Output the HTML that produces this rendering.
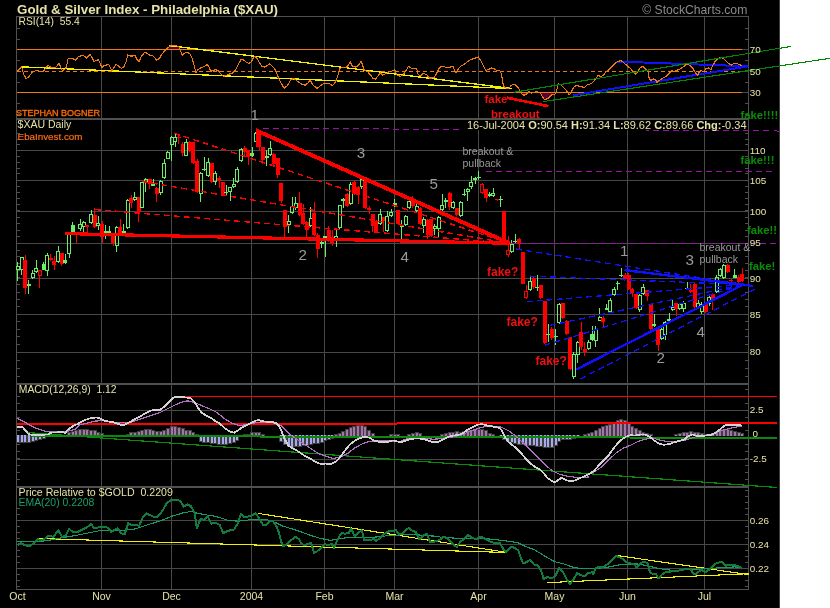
<!DOCTYPE html>
<html><head><meta charset="utf-8"><title>Gold &amp; Silver Index - Philadelphia ($XAU)</title><style>html,body{margin:0;padding:0;background:#fff;width:830px;height:608px;overflow:hidden;}svg{display:block;font-family:"Liberation Sans",sans-serif;will-change:transform;}</style></head><body>
<svg width="830" height="608" viewBox="0 0 830 608" font-family="Liberation Sans, sans-serif"><style>line,polyline,polygon,rect{shape-rendering:crispEdges}</style><rect x="0" y="0" width="780" height="608" fill="#000" />
<rect x="780" y="0" width="50" height="608" fill="#fff" />
<rect x="779" y="0" width="1" height="608" fill="#3c3c3c" />
<g shape-rendering="crispEdges">
<line x1="101.5" y1="17" x2="101.5" y2="118" stroke="#484848" stroke-width="1" />
<line x1="171.5" y1="17" x2="171.5" y2="118" stroke="#484848" stroke-width="1" />
<line x1="251.5" y1="17" x2="251.5" y2="118" stroke="#484848" stroke-width="1" />
<line x1="324.5" y1="17" x2="324.5" y2="118" stroke="#484848" stroke-width="1" />
<line x1="394.5" y1="17" x2="394.5" y2="118" stroke="#484848" stroke-width="1" />
<line x1="478.5" y1="17" x2="478.5" y2="118" stroke="#484848" stroke-width="1" />
<line x1="554.5" y1="17" x2="554.5" y2="118" stroke="#484848" stroke-width="1" />
<line x1="627.5" y1="17" x2="627.5" y2="118" stroke="#484848" stroke-width="1" />
<line x1="704.5" y1="17" x2="704.5" y2="118" stroke="#484848" stroke-width="1" />
<line x1="101.5" y1="120" x2="101.5" y2="383" stroke="#484848" stroke-width="1" />
<line x1="171.5" y1="120" x2="171.5" y2="383" stroke="#484848" stroke-width="1" />
<line x1="251.5" y1="120" x2="251.5" y2="383" stroke="#484848" stroke-width="1" />
<line x1="324.5" y1="120" x2="324.5" y2="383" stroke="#484848" stroke-width="1" />
<line x1="394.5" y1="120" x2="394.5" y2="383" stroke="#484848" stroke-width="1" />
<line x1="478.5" y1="120" x2="478.5" y2="383" stroke="#484848" stroke-width="1" />
<line x1="554.5" y1="120" x2="554.5" y2="383" stroke="#484848" stroke-width="1" />
<line x1="627.5" y1="120" x2="627.5" y2="383" stroke="#484848" stroke-width="1" />
<line x1="704.5" y1="120" x2="704.5" y2="383" stroke="#484848" stroke-width="1" />
<line x1="101.5" y1="385" x2="101.5" y2="486" stroke="#484848" stroke-width="1" />
<line x1="171.5" y1="385" x2="171.5" y2="486" stroke="#484848" stroke-width="1" />
<line x1="251.5" y1="385" x2="251.5" y2="486" stroke="#484848" stroke-width="1" />
<line x1="324.5" y1="385" x2="324.5" y2="486" stroke="#484848" stroke-width="1" />
<line x1="394.5" y1="385" x2="394.5" y2="486" stroke="#484848" stroke-width="1" />
<line x1="478.5" y1="385" x2="478.5" y2="486" stroke="#484848" stroke-width="1" />
<line x1="554.5" y1="385" x2="554.5" y2="486" stroke="#484848" stroke-width="1" />
<line x1="627.5" y1="385" x2="627.5" y2="486" stroke="#484848" stroke-width="1" />
<line x1="704.5" y1="385" x2="704.5" y2="486" stroke="#484848" stroke-width="1" />
<line x1="101.5" y1="488" x2="101.5" y2="589" stroke="#484848" stroke-width="1" />
<line x1="171.5" y1="488" x2="171.5" y2="589" stroke="#484848" stroke-width="1" />
<line x1="251.5" y1="488" x2="251.5" y2="589" stroke="#484848" stroke-width="1" />
<line x1="324.5" y1="488" x2="324.5" y2="589" stroke="#484848" stroke-width="1" />
<line x1="394.5" y1="488" x2="394.5" y2="589" stroke="#484848" stroke-width="1" />
<line x1="478.5" y1="488" x2="478.5" y2="589" stroke="#484848" stroke-width="1" />
<line x1="554.5" y1="488" x2="554.5" y2="589" stroke="#484848" stroke-width="1" />
<line x1="627.5" y1="488" x2="627.5" y2="589" stroke="#484848" stroke-width="1" />
<line x1="704.5" y1="488" x2="704.5" y2="589" stroke="#484848" stroke-width="1" />
<line x1="17" y1="150.5" x2="748" y2="150.5" stroke="#484848" stroke-width="1" />
<line x1="17" y1="180.5" x2="748" y2="180.5" stroke="#484848" stroke-width="1" />
<line x1="17" y1="211.5" x2="748" y2="211.5" stroke="#484848" stroke-width="1" />
<line x1="17" y1="243.5" x2="748" y2="243.5" stroke="#484848" stroke-width="1" />
<line x1="17" y1="278.5" x2="748" y2="278.5" stroke="#484848" stroke-width="1" />
<line x1="17" y1="314.5" x2="748" y2="314.5" stroke="#484848" stroke-width="1" />
<line x1="17" y1="352.5" x2="748" y2="352.5" stroke="#484848" stroke-width="1" />
<line x1="17" y1="410.5" x2="748" y2="410.5" stroke="#484848" stroke-width="1" />
<line x1="17" y1="459.5" x2="748" y2="459.5" stroke="#484848" stroke-width="1" />
<line x1="17" y1="520.5" x2="748" y2="520.5" stroke="#484848" stroke-width="1" />
<line x1="17" y1="544.5" x2="748" y2="544.5" stroke="#484848" stroke-width="1" />
<line x1="17" y1="568.5" x2="748" y2="568.5" stroke="#484848" stroke-width="1" />
<line x1="16" y1="16.5" x2="749" y2="16.5" stroke="#505050" stroke-width="1" />
<line x1="16.5" y1="16" x2="16.5" y2="590" stroke="#505050" stroke-width="1" />
<line x1="748.5" y1="16" x2="748.5" y2="590" stroke="#505050" stroke-width="1" />
<line x1="16" y1="589.5" x2="749" y2="589.5" stroke="#505050" stroke-width="1" />
<rect x="16" y="118" width="733" height="2" fill="#505050" />
<rect x="16" y="383" width="733" height="2" fill="#505050" />
<rect x="16" y="486" width="733" height="2" fill="#505050" />
<line x1="17" y1="28.5" x2="20" y2="28.5" stroke="#505050" stroke-width="1" />
<line x1="745" y1="28.5" x2="748" y2="28.5" stroke="#505050" stroke-width="1" />
<line x1="17" y1="39.5" x2="20" y2="39.5" stroke="#505050" stroke-width="1" />
<line x1="745" y1="39.5" x2="748" y2="39.5" stroke="#505050" stroke-width="1" />
<line x1="17" y1="60.5" x2="20" y2="60.5" stroke="#505050" stroke-width="1" />
<line x1="745" y1="60.5" x2="748" y2="60.5" stroke="#505050" stroke-width="1" />
<line x1="17" y1="82.5" x2="20" y2="82.5" stroke="#505050" stroke-width="1" />
<line x1="745" y1="82.5" x2="748" y2="82.5" stroke="#505050" stroke-width="1" />
<line x1="17" y1="103.5" x2="20" y2="103.5" stroke="#505050" stroke-width="1" />
<line x1="745" y1="103.5" x2="748" y2="103.5" stroke="#505050" stroke-width="1" />
<line x1="17" y1="114.5" x2="20" y2="114.5" stroke="#505050" stroke-width="1" />
<line x1="745" y1="114.5" x2="748" y2="114.5" stroke="#505050" stroke-width="1" />
<line x1="17" y1="376.5" x2="20" y2="376.5" stroke="#505050" stroke-width="1" />
<line x1="745" y1="376.5" x2="748" y2="376.5" stroke="#505050" stroke-width="1" />
<line x1="17" y1="368.5" x2="20" y2="368.5" stroke="#505050" stroke-width="1" />
<line x1="745" y1="368.5" x2="748" y2="368.5" stroke="#505050" stroke-width="1" />
<line x1="17" y1="360.5" x2="20" y2="360.5" stroke="#505050" stroke-width="1" />
<line x1="745" y1="360.5" x2="748" y2="360.5" stroke="#505050" stroke-width="1" />
<line x1="17" y1="352.5" x2="20" y2="352.5" stroke="#505050" stroke-width="1" />
<line x1="745" y1="352.5" x2="748" y2="352.5" stroke="#505050" stroke-width="1" />
<line x1="17" y1="344.5" x2="20" y2="344.5" stroke="#505050" stroke-width="1" />
<line x1="745" y1="344.5" x2="748" y2="344.5" stroke="#505050" stroke-width="1" />
<line x1="17" y1="336.5" x2="20" y2="336.5" stroke="#505050" stroke-width="1" />
<line x1="745" y1="336.5" x2="748" y2="336.5" stroke="#505050" stroke-width="1" />
<line x1="17" y1="329.5" x2="20" y2="329.5" stroke="#505050" stroke-width="1" />
<line x1="745" y1="329.5" x2="748" y2="329.5" stroke="#505050" stroke-width="1" />
<line x1="17" y1="321.5" x2="20" y2="321.5" stroke="#505050" stroke-width="1" />
<line x1="745" y1="321.5" x2="748" y2="321.5" stroke="#505050" stroke-width="1" />
<line x1="17" y1="314.5" x2="20" y2="314.5" stroke="#505050" stroke-width="1" />
<line x1="745" y1="314.5" x2="748" y2="314.5" stroke="#505050" stroke-width="1" />
<line x1="17" y1="306.5" x2="20" y2="306.5" stroke="#505050" stroke-width="1" />
<line x1="745" y1="306.5" x2="748" y2="306.5" stroke="#505050" stroke-width="1" />
<line x1="17" y1="299.5" x2="20" y2="299.5" stroke="#505050" stroke-width="1" />
<line x1="745" y1="299.5" x2="748" y2="299.5" stroke="#505050" stroke-width="1" />
<line x1="17" y1="292.5" x2="20" y2="292.5" stroke="#505050" stroke-width="1" />
<line x1="745" y1="292.5" x2="748" y2="292.5" stroke="#505050" stroke-width="1" />
<line x1="17" y1="284.5" x2="20" y2="284.5" stroke="#505050" stroke-width="1" />
<line x1="745" y1="284.5" x2="748" y2="284.5" stroke="#505050" stroke-width="1" />
<line x1="17" y1="277.5" x2="20" y2="277.5" stroke="#505050" stroke-width="1" />
<line x1="745" y1="277.5" x2="748" y2="277.5" stroke="#505050" stroke-width="1" />
<line x1="17" y1="270.5" x2="20" y2="270.5" stroke="#505050" stroke-width="1" />
<line x1="745" y1="270.5" x2="748" y2="270.5" stroke="#505050" stroke-width="1" />
<line x1="17" y1="263.5" x2="20" y2="263.5" stroke="#505050" stroke-width="1" />
<line x1="745" y1="263.5" x2="748" y2="263.5" stroke="#505050" stroke-width="1" />
<line x1="17" y1="256.5" x2="20" y2="256.5" stroke="#505050" stroke-width="1" />
<line x1="745" y1="256.5" x2="748" y2="256.5" stroke="#505050" stroke-width="1" />
<line x1="17" y1="250.5" x2="20" y2="250.5" stroke="#505050" stroke-width="1" />
<line x1="745" y1="250.5" x2="748" y2="250.5" stroke="#505050" stroke-width="1" />
<line x1="17" y1="243.5" x2="20" y2="243.5" stroke="#505050" stroke-width="1" />
<line x1="745" y1="243.5" x2="748" y2="243.5" stroke="#505050" stroke-width="1" />
<line x1="17" y1="236.5" x2="20" y2="236.5" stroke="#505050" stroke-width="1" />
<line x1="745" y1="236.5" x2="748" y2="236.5" stroke="#505050" stroke-width="1" />
<line x1="17" y1="230.5" x2="20" y2="230.5" stroke="#505050" stroke-width="1" />
<line x1="745" y1="230.5" x2="748" y2="230.5" stroke="#505050" stroke-width="1" />
<line x1="17" y1="223.5" x2="20" y2="223.5" stroke="#505050" stroke-width="1" />
<line x1="745" y1="223.5" x2="748" y2="223.5" stroke="#505050" stroke-width="1" />
<line x1="17" y1="217.5" x2="20" y2="217.5" stroke="#505050" stroke-width="1" />
<line x1="745" y1="217.5" x2="748" y2="217.5" stroke="#505050" stroke-width="1" />
<line x1="17" y1="210.5" x2="20" y2="210.5" stroke="#505050" stroke-width="1" />
<line x1="745" y1="210.5" x2="748" y2="210.5" stroke="#505050" stroke-width="1" />
<line x1="17" y1="204.5" x2="20" y2="204.5" stroke="#505050" stroke-width="1" />
<line x1="745" y1="204.5" x2="748" y2="204.5" stroke="#505050" stroke-width="1" />
<line x1="17" y1="198.5" x2="20" y2="198.5" stroke="#505050" stroke-width="1" />
<line x1="745" y1="198.5" x2="748" y2="198.5" stroke="#505050" stroke-width="1" />
<line x1="17" y1="192.5" x2="20" y2="192.5" stroke="#505050" stroke-width="1" />
<line x1="745" y1="192.5" x2="748" y2="192.5" stroke="#505050" stroke-width="1" />
<line x1="17" y1="186.5" x2="20" y2="186.5" stroke="#505050" stroke-width="1" />
<line x1="745" y1="186.5" x2="748" y2="186.5" stroke="#505050" stroke-width="1" />
<line x1="17" y1="180.5" x2="20" y2="180.5" stroke="#505050" stroke-width="1" />
<line x1="745" y1="180.5" x2="748" y2="180.5" stroke="#505050" stroke-width="1" />
<line x1="17" y1="173.5" x2="20" y2="173.5" stroke="#505050" stroke-width="1" />
<line x1="745" y1="173.5" x2="748" y2="173.5" stroke="#505050" stroke-width="1" />
<line x1="17" y1="168.5" x2="20" y2="168.5" stroke="#505050" stroke-width="1" />
<line x1="745" y1="168.5" x2="748" y2="168.5" stroke="#505050" stroke-width="1" />
<line x1="17" y1="162.5" x2="20" y2="162.5" stroke="#505050" stroke-width="1" />
<line x1="745" y1="162.5" x2="748" y2="162.5" stroke="#505050" stroke-width="1" />
<line x1="17" y1="156.5" x2="20" y2="156.5" stroke="#505050" stroke-width="1" />
<line x1="745" y1="156.5" x2="748" y2="156.5" stroke="#505050" stroke-width="1" />
<line x1="17" y1="150.5" x2="20" y2="150.5" stroke="#505050" stroke-width="1" />
<line x1="745" y1="150.5" x2="748" y2="150.5" stroke="#505050" stroke-width="1" />
<line x1="17" y1="144.5" x2="20" y2="144.5" stroke="#505050" stroke-width="1" />
<line x1="745" y1="144.5" x2="748" y2="144.5" stroke="#505050" stroke-width="1" />
<line x1="17" y1="139.5" x2="20" y2="139.5" stroke="#505050" stroke-width="1" />
<line x1="745" y1="139.5" x2="748" y2="139.5" stroke="#505050" stroke-width="1" />
<line x1="17" y1="133.5" x2="20" y2="133.5" stroke="#505050" stroke-width="1" />
<line x1="745" y1="133.5" x2="748" y2="133.5" stroke="#505050" stroke-width="1" />
<line x1="17" y1="127.5" x2="20" y2="127.5" stroke="#505050" stroke-width="1" />
<line x1="745" y1="127.5" x2="748" y2="127.5" stroke="#505050" stroke-width="1" />
<line x1="17" y1="389.5" x2="20" y2="389.5" stroke="#505050" stroke-width="1" />
<line x1="745" y1="389.5" x2="748" y2="389.5" stroke="#505050" stroke-width="1" />
<line x1="17" y1="396.5" x2="20" y2="396.5" stroke="#505050" stroke-width="1" />
<line x1="745" y1="396.5" x2="748" y2="396.5" stroke="#505050" stroke-width="1" />
<line x1="17" y1="403.5" x2="20" y2="403.5" stroke="#505050" stroke-width="1" />
<line x1="745" y1="403.5" x2="748" y2="403.5" stroke="#505050" stroke-width="1" />
<line x1="17" y1="410.5" x2="20" y2="410.5" stroke="#505050" stroke-width="1" />
<line x1="745" y1="410.5" x2="748" y2="410.5" stroke="#505050" stroke-width="1" />
<line x1="17" y1="417.5" x2="20" y2="417.5" stroke="#505050" stroke-width="1" />
<line x1="745" y1="417.5" x2="748" y2="417.5" stroke="#505050" stroke-width="1" />
<line x1="17" y1="423.5" x2="20" y2="423.5" stroke="#505050" stroke-width="1" />
<line x1="745" y1="423.5" x2="748" y2="423.5" stroke="#505050" stroke-width="1" />
<line x1="17" y1="430.5" x2="20" y2="430.5" stroke="#505050" stroke-width="1" />
<line x1="745" y1="430.5" x2="748" y2="430.5" stroke="#505050" stroke-width="1" />
<line x1="17" y1="437.5" x2="20" y2="437.5" stroke="#505050" stroke-width="1" />
<line x1="745" y1="437.5" x2="748" y2="437.5" stroke="#505050" stroke-width="1" />
<line x1="17" y1="444.5" x2="20" y2="444.5" stroke="#505050" stroke-width="1" />
<line x1="745" y1="444.5" x2="748" y2="444.5" stroke="#505050" stroke-width="1" />
<line x1="17" y1="451.5" x2="20" y2="451.5" stroke="#505050" stroke-width="1" />
<line x1="745" y1="451.5" x2="748" y2="451.5" stroke="#505050" stroke-width="1" />
<line x1="17" y1="458.5" x2="20" y2="458.5" stroke="#505050" stroke-width="1" />
<line x1="745" y1="458.5" x2="748" y2="458.5" stroke="#505050" stroke-width="1" />
<line x1="17" y1="465.5" x2="20" y2="465.5" stroke="#505050" stroke-width="1" />
<line x1="745" y1="465.5" x2="748" y2="465.5" stroke="#505050" stroke-width="1" />
<line x1="17" y1="472.5" x2="20" y2="472.5" stroke="#505050" stroke-width="1" />
<line x1="745" y1="472.5" x2="748" y2="472.5" stroke="#505050" stroke-width="1" />
<line x1="17" y1="479.5" x2="20" y2="479.5" stroke="#505050" stroke-width="1" />
<line x1="745" y1="479.5" x2="748" y2="479.5" stroke="#505050" stroke-width="1" />
<line x1="17" y1="490.5" x2="20" y2="490.5" stroke="#505050" stroke-width="1" />
<line x1="745" y1="490.5" x2="748" y2="490.5" stroke="#505050" stroke-width="1" />
<line x1="17" y1="496.5" x2="20" y2="496.5" stroke="#505050" stroke-width="1" />
<line x1="745" y1="496.5" x2="748" y2="496.5" stroke="#505050" stroke-width="1" />
<line x1="17" y1="502.5" x2="20" y2="502.5" stroke="#505050" stroke-width="1" />
<line x1="745" y1="502.5" x2="748" y2="502.5" stroke="#505050" stroke-width="1" />
<line x1="17" y1="508.5" x2="20" y2="508.5" stroke="#505050" stroke-width="1" />
<line x1="745" y1="508.5" x2="748" y2="508.5" stroke="#505050" stroke-width="1" />
<line x1="17" y1="514.5" x2="20" y2="514.5" stroke="#505050" stroke-width="1" />
<line x1="745" y1="514.5" x2="748" y2="514.5" stroke="#505050" stroke-width="1" />
<line x1="17" y1="520.5" x2="20" y2="520.5" stroke="#505050" stroke-width="1" />
<line x1="745" y1="520.5" x2="748" y2="520.5" stroke="#505050" stroke-width="1" />
<line x1="17" y1="526.5" x2="20" y2="526.5" stroke="#505050" stroke-width="1" />
<line x1="745" y1="526.5" x2="748" y2="526.5" stroke="#505050" stroke-width="1" />
<line x1="17" y1="532.5" x2="20" y2="532.5" stroke="#505050" stroke-width="1" />
<line x1="745" y1="532.5" x2="748" y2="532.5" stroke="#505050" stroke-width="1" />
<line x1="17" y1="538.5" x2="20" y2="538.5" stroke="#505050" stroke-width="1" />
<line x1="745" y1="538.5" x2="748" y2="538.5" stroke="#505050" stroke-width="1" />
<line x1="17" y1="544.5" x2="20" y2="544.5" stroke="#505050" stroke-width="1" />
<line x1="745" y1="544.5" x2="748" y2="544.5" stroke="#505050" stroke-width="1" />
<line x1="17" y1="550.5" x2="20" y2="550.5" stroke="#505050" stroke-width="1" />
<line x1="745" y1="550.5" x2="748" y2="550.5" stroke="#505050" stroke-width="1" />
<line x1="17" y1="556.5" x2="20" y2="556.5" stroke="#505050" stroke-width="1" />
<line x1="745" y1="556.5" x2="748" y2="556.5" stroke="#505050" stroke-width="1" />
<line x1="17" y1="562.5" x2="20" y2="562.5" stroke="#505050" stroke-width="1" />
<line x1="745" y1="562.5" x2="748" y2="562.5" stroke="#505050" stroke-width="1" />
<line x1="17" y1="568.5" x2="20" y2="568.5" stroke="#505050" stroke-width="1" />
<line x1="745" y1="568.5" x2="748" y2="568.5" stroke="#505050" stroke-width="1" />
<line x1="17" y1="574.5" x2="20" y2="574.5" stroke="#505050" stroke-width="1" />
<line x1="745" y1="574.5" x2="748" y2="574.5" stroke="#505050" stroke-width="1" />
<line x1="17" y1="580.5" x2="20" y2="580.5" stroke="#505050" stroke-width="1" />
<line x1="745" y1="580.5" x2="748" y2="580.5" stroke="#505050" stroke-width="1" />
<line x1="17" y1="586.5" x2="20" y2="586.5" stroke="#505050" stroke-width="1" />
<line x1="745" y1="586.5" x2="748" y2="586.5" stroke="#505050" stroke-width="1" />
</g>
<polygon points="165.94,49.5 168.55,47.14 171.59,45.46 175.3,45.46 178.67,46.47 180.05,49.5" fill="#5a0030" />
<polygon points="520.86,92.5 521.2,93.19 523.73,95.39 526.27,94.04 527.8,92.5" fill="#5a0030" />
<polygon points="530.29,92.5 531.33,93.19 533.4,92.5" fill="#5a0030" />
<polygon points="538.52,92.5 540.6,93.19 542.29,96.57 544.82,99.94 548.19,98.25 551.57,94.88 554.94,94.04 555.71,92.5" fill="#5a0030" />
<polygon points="567.75,92.5 569.34,94.88 570.92,92.5" fill="#5a0030" />
<g shape-rendering="crispEdges">
<line x1="742" y1="49.5" x2="748" y2="49.5" stroke="#484848" stroke-width="1" />
<line x1="742" y1="92.5" x2="748" y2="92.5" stroke="#484848" stroke-width="1" />
<line x1="742" y1="71.5" x2="748" y2="71.5" stroke="#484848" stroke-width="1" />
<line x1="17" y1="49.5" x2="742" y2="49.5" stroke="#f07a10" stroke-width="1" />
<line x1="17" y1="92.5" x2="742" y2="92.5" stroke="#f07a10" stroke-width="1" />
</g>
<line x1="17" y1="71.5" x2="742" y2="71.5" stroke="#f07a10" stroke-width="1" stroke-dasharray="4,3" shape-rendering="crispEdges"/>
<line x1="168.6" y1="45.5" x2="512" y2="88.6" stroke="#f0f000" stroke-width="1.3" />
<line x1="20.5" y1="66.8" x2="512" y2="88.6" stroke="#f0f000" stroke-width="1.3" />
<line x1="615.7" y1="61.5" x2="748" y2="66.3" stroke="#1010ff" stroke-width="2" />
<line x1="572.7" y1="95.4" x2="748" y2="66.3" stroke="#1010ff" stroke-width="2" />
<polyline points="17.53,71.2 21.75,66.99 23.43,73.73 25.96,78.46 28.49,77.11 31.87,72.89 34.4,71.2 36.93,70.36 39.46,71.2 43.67,71.2 45.36,68.67 47.89,65.3 50.42,66.99 52.95,67.83 55.48,67.83 58.01,64.46 59.19,63.61 60.54,66.99 62.23,70.36 64.76,69.52 66.45,66.99 68.13,58.55 70.66,58.22 73.19,58.89 75.72,60.24 78.25,56.87 81.63,55.52 84.16,56.02 86.69,58.22 90.06,54.34 91.75,56.87 94.28,61.93 95.96,60.24 98.49,59.9 100.18,63.61 101.87,67.33 104.4,65.3 106.93,64.96 108.61,64.46 110.3,67.83 111.99,70.36 113.67,67.83 116.2,64.46 118.73,66.14 121.27,68.34 123.8,66.99 126.33,61.08 127.67,54.84 130.54,56.02 133.07,56.02 134.76,55.18 136.45,58.55 138.98,61.93 141.51,56.02 144.88,52.14 147.41,53.49 149.94,55.18 153.37,56.08 156.75,60.3 159.28,58.61 161.81,54.4 165.18,50.18 168.55,47.14 171.59,45.46 175.3,45.46 178.67,46.47 180.36,50.18 182.39,55.24 184.58,53.22 187.11,52.2 189.64,53.55 192.17,58.61 194.19,65.36 195.88,72.95 198.07,69.58 200.6,67.89 203.98,66.71 207.35,64.52 209.04,67.05 210.72,71.27 213.25,70.42 215.78,69.58 218.31,70.76 220.84,73.8 223.37,76.33 225.9,75.48 229.28,74.13 232.65,72.95 235.18,70.42 237.71,65.36 241.08,59.46 243.61,59.96 246.14,61.99 248.67,63.34 251.2,61.99 252.89,58.61 254.92,56.08 257.11,58.61 259.64,62.83 262.17,66.71 264.7,67.05 267.23,65.36 269.76,63.67 273.13,67.05 275.66,70.42 278.19,77.17 281.57,83.92 284.43,88.64 285,87.29 287.53,85.6 290.9,79.19 294.28,78.86 297.65,81.39 301.02,83.92 305.24,85.27 307.77,83.07 310.3,80.2 312.83,84.76 317.05,88.64 320.42,85.6 323.8,83.58 327.17,83.07 329.7,83.92 332.23,85.6 334.76,83.07 336.45,79.7 338.13,74.64 339.82,68.73 342.35,67.39 345.72,67.89 348.25,65.36 350.45,61.99 352.47,66.71 355.84,67.05 358.37,65.36 361.24,61.14 362.93,66.2 364.28,70.42 367.65,71.77 370.18,74.64 372.71,78.01 375.24,79.19 377.77,76.33 380.3,72.95 382.83,75.14 386.2,73.46 389.58,71.77 392.95,70.76 394.64,69.58 397.17,75.48 400.54,76.33 403.07,75.14 405.6,71.27 408.47,66.2 411.51,68.4 414.04,68.73 416.57,68.4 418.25,74.64 420.78,75.82 423.37,73.46 426.75,74.64 429.28,78.01 431.81,78.01 434.34,77.17 436.87,72.95 439.4,67.89 441.93,66.2 445.3,67.05 447.83,67.89 450.36,67.05 452.89,66.2 454.58,70.42 456.27,72.95 457.95,69.58 460.48,66.2 463.86,64.52 467.23,61.99 470.6,59.46 473.98,58.61 478.19,56.93 480.72,60.3 483.25,65.36 485.78,70.42 488.31,69.58 491.69,67.89 494.22,68.73 496.75,70.42 499.61,70.42 500.96,72.95 502.31,78.86 503.49,86.45 506.02,88.13 508.55,88.64 511.08,85.6 513.61,84.25 516.14,85.27 518.67,88.13 521.2,93.19 523.73,95.39 526.27,94.04 528.8,91.51 531.33,93.19 533.86,92.35 536.39,91.51 538.07,92.35 540.6,93.19 542.29,96.57 544.82,99.94 548.19,98.25 551.57,94.88 554.94,94.04 556.63,90.66 558.31,83.92 560.9,84.76 563.43,87.29 565.96,89.82 567.65,92.35 569.34,94.88 571.02,92.35 572.71,88.98 574.4,86.45 576.93,85.27 579.46,86.45 581.99,86.95 584.52,87.29 587.05,84.76 590.42,83.92 592.95,82.23 595.48,79.19 598.01,75.48 600.54,76.33 603.07,75.82 605.6,72.45 608.98,69.58 612.35,66.2 614.88,63.34 617.41,61.65 620.78,60.64 623.31,62.33 625.84,64.52 627.53,66.2 630.06,67.89 632.59,71.27 634.28,72.45 635.63,74.13 637.65,71.77 640.18,67.89 642.71,66.2 645.24,68.73 647.77,70.42 648.61,75.48 649.46,79.7 651.14,80.2 653.67,78.86 655.87,80.2 657.05,83.07 658.23,81.39 660.42,79.7 662.95,78.01 666.33,76.33 669.7,72.95 671.39,70.42 673.92,72.11 676.45,70.42 678.98,69.58 681.51,67.89 684.04,66.2 685.72,65.02 688.25,64.52 689.94,65.36 691.63,67.05 693.31,68.73 694.22,71.27 697.59,75.14 699.28,72.11 700.96,70.42 703.49,71.77 706.02,68.73 708.55,67.89 711.08,69.58 712.77,65.36 715.3,61.14 717.83,58.61 721.2,57.27 723.73,58.61 726.27,61.14 728.8,63.67 731.33,65.02 733.86,63.67 737.23,63.67 739.76,64.52 742.29,66.2" fill="none" stroke="#f07a10" stroke-width="1.1" stroke-linejoin="round" />
<line x1="513.6" y1="92.3" x2="790.9" y2="46.4" stroke="#008800" stroke-width="1.1" />
<line x1="543.1" y1="101.6" x2="830" y2="58.3" stroke="#008800" stroke-width="1.1" />
<line x1="507" y1="97.7" x2="548.5" y2="106.2" stroke="#ff0000" stroke-width="2.6" />
<g shape-rendering="crispEdges">
<rect x="17" y="262" width="1" height="4" fill="#6aee6a" />
<rect x="17" y="270" width="1" height="11" fill="#6aee6a" />
<rect x="16.5" y="266.5" width="3" height="3" fill="none" stroke="#6aee6a" stroke-width="1"/>
<rect x="21" y="270" width="1" height="5" fill="#6aee6a" />
<rect x="20.5" y="257.5" width="3" height="12" fill="none" stroke="#6aee6a" stroke-width="1"/>
<rect x="25" y="255" width="1" height="39" fill="#ff0000" />
<rect x="23" y="260" width="4" height="28" fill="#ff0000" />
<rect x="28" y="280" width="1" height="14" fill="#6aee6a" />
<rect x="27" y="284" width="4" height="2" fill="#6aee6a" />
<rect x="32" y="270" width="1" height="3" fill="#6aee6a" />
<rect x="32" y="278" width="1" height="1" fill="#6aee6a" />
<rect x="31.5" y="273.5" width="3" height="4" fill="none" stroke="#6aee6a" stroke-width="1"/>
<rect x="36" y="260" width="1" height="8" fill="#6aee6a" />
<rect x="36" y="272" width="1" height="1" fill="#6aee6a" />
<rect x="34.5" y="268.5" width="3" height="3" fill="none" stroke="#6aee6a" stroke-width="1"/>
<rect x="39" y="276" width="1" height="12" fill="#ff0000" />
<rect x="38.5" y="270.5" width="3" height="5" fill="none" stroke="#ff0000" stroke-width="1"/>
<rect x="43" y="262" width="1" height="8" fill="#6aee6a" />
<rect x="42" y="264" width="4" height="6" fill="#6aee6a" />
<rect x="47" y="253" width="1" height="2" fill="#6aee6a" />
<rect x="47" y="271" width="1" height="5" fill="#6aee6a" />
<rect x="45.5" y="255.5" width="3" height="15" fill="none" stroke="#6aee6a" stroke-width="1"/>
<rect x="50" y="254" width="1" height="7" fill="#ff0000" />
<rect x="49" y="258" width="4" height="2" fill="#ff0000" />
<rect x="54" y="256" width="1" height="14" fill="#ff0000" />
<rect x="52" y="261" width="4" height="4" fill="#ff0000" />
<rect x="58" y="246" width="1" height="5" fill="#6aee6a" />
<rect x="58" y="262" width="1" height="1" fill="#6aee6a" />
<rect x="56.5" y="251.5" width="3" height="10" fill="none" stroke="#6aee6a" stroke-width="1"/>
<rect x="61" y="253" width="1" height="13" fill="#ff0000" />
<rect x="60" y="253" width="4" height="11" fill="#ff0000" />
<rect x="65" y="254" width="1" height="10" fill="#6aee6a" />
<rect x="63" y="260" width="4" height="3" fill="#6aee6a" />
<rect x="69" y="233" width="1" height="1" fill="#6aee6a" />
<rect x="69" y="254" width="1" height="4" fill="#6aee6a" />
<rect x="67.5" y="234.5" width="3" height="19" fill="none" stroke="#6aee6a" stroke-width="1"/>
<rect x="72" y="222" width="1" height="10" fill="#6aee6a" />
<rect x="71" y="225" width="4" height="7" fill="#6aee6a" />
<rect x="76" y="233" width="1" height="10" fill="#ff0000" />
<rect x="74" y="233" width="4" height="2" fill="#ff0000" />
<rect x="80" y="219" width="1" height="5" fill="#6aee6a" />
<rect x="80" y="229" width="1" height="2" fill="#6aee6a" />
<rect x="78.5" y="224.5" width="3" height="4" fill="none" stroke="#6aee6a" stroke-width="1"/>
<rect x="83" y="221" width="1" height="1" fill="#6aee6a" />
<rect x="83" y="227" width="1" height="5" fill="#6aee6a" />
<rect x="82.5" y="222.5" width="3" height="4" fill="none" stroke="#6aee6a" stroke-width="1"/>
<rect x="87" y="225" width="1" height="9" fill="#ff0000" />
<rect x="85" y="225" width="4" height="2" fill="#ff0000" />
<rect x="91" y="210" width="1" height="4" fill="#6aee6a" />
<rect x="91" y="223" width="1" height="1" fill="#6aee6a" />
<rect x="89.5" y="214.5" width="3" height="8" fill="none" stroke="#6aee6a" stroke-width="1"/>
<rect x="94" y="208" width="1" height="20" fill="#ff0000" />
<rect x="93" y="215" width="4" height="12" fill="#ff0000" />
<rect x="98" y="216" width="1" height="7" fill="#6aee6a" />
<rect x="98" y="226" width="1" height="4" fill="#6aee6a" />
<rect x="96.5" y="223.5" width="3" height="2" fill="none" stroke="#6aee6a" stroke-width="1"/>
<rect x="102" y="221" width="1" height="22" fill="#ff0000" />
<rect x="100" y="224" width="4" height="13" fill="#ff0000" />
<rect x="105" y="225" width="1" height="14" fill="#6aee6a" />
<rect x="104" y="231" width="4" height="2" fill="#6aee6a" />
<rect x="109" y="226" width="1" height="7" fill="#6aee6a" />
<rect x="107" y="231" width="4" height="2" fill="#6aee6a" />
<rect x="113" y="234" width="1" height="12" fill="#ff0000" />
<rect x="111" y="236" width="4" height="7" fill="#ff0000" />
<rect x="116" y="226" width="1" height="1" fill="#6aee6a" />
<rect x="116" y="246" width="1" height="6" fill="#6aee6a" />
<rect x="115.5" y="227.5" width="3" height="18" fill="none" stroke="#6aee6a" stroke-width="1"/>
<rect x="120" y="219" width="1" height="15" fill="#ff0000" />
<rect x="118" y="227" width="4" height="7" fill="#ff0000" />
<rect x="123" y="224" width="1" height="9" fill="#6aee6a" />
<rect x="122" y="231" width="4" height="2" fill="#6aee6a" />
<rect x="127" y="199" width="1" height="1" fill="#6aee6a" />
<rect x="127" y="228" width="1" height="1" fill="#6aee6a" />
<rect x="126.5" y="200.5" width="3" height="27" fill="none" stroke="#6aee6a" stroke-width="1"/>
<rect x="131" y="195" width="1" height="13" fill="#ff0000" />
<rect x="129" y="198" width="4" height="5" fill="#ff0000" />
<rect x="134" y="192" width="1" height="5" fill="#6aee6a" />
<rect x="134" y="200" width="1" height="1" fill="#6aee6a" />
<rect x="133.5" y="197.5" width="3" height="2" fill="none" stroke="#6aee6a" stroke-width="1"/>
<rect x="138" y="197" width="1" height="25" fill="#ff0000" />
<rect x="137" y="197" width="4" height="15" fill="#ff0000" />
<rect x="140.5" y="182.5" width="3" height="25" fill="none" stroke="#6aee6a" stroke-width="1"/>
<rect x="145" y="178" width="1" height="1" fill="#6aee6a" />
<rect x="145" y="182" width="1" height="10" fill="#6aee6a" />
<rect x="144.5" y="179.5" width="3" height="2" fill="none" stroke="#6aee6a" stroke-width="1"/>
<rect x="149" y="179" width="1" height="10" fill="#ff0000" />
<rect x="148" y="179" width="4" height="5" fill="#ff0000" />
<rect x="153" y="179" width="1" height="7" fill="#6aee6a" />
<rect x="151" y="184" width="4" height="2" fill="#6aee6a" />
<rect x="156" y="187" width="1" height="15" fill="#ff0000" />
<rect x="155" y="188" width="4" height="6" fill="#ff0000" />
<rect x="160" y="180" width="1" height="1" fill="#6aee6a" />
<rect x="160" y="193" width="1" height="2" fill="#6aee6a" />
<rect x="159.5" y="181.5" width="3" height="11" fill="none" stroke="#6aee6a" stroke-width="1"/>
<rect x="164" y="159" width="1" height="4" fill="#6aee6a" />
<rect x="164" y="178" width="1" height="1" fill="#6aee6a" />
<rect x="162.5" y="163.5" width="3" height="14" fill="none" stroke="#6aee6a" stroke-width="1"/>
<rect x="167" y="151" width="1" height="1" fill="#6aee6a" />
<rect x="166.5" y="152.5" width="3" height="6" fill="none" stroke="#6aee6a" stroke-width="1"/>
<rect x="171" y="136" width="1" height="1" fill="#6aee6a" />
<rect x="171" y="145" width="1" height="16" fill="#6aee6a" />
<rect x="170.5" y="137.5" width="3" height="7" fill="none" stroke="#6aee6a" stroke-width="1"/>
<rect x="175" y="134" width="1" height="3" fill="#6aee6a" />
<rect x="175" y="142" width="1" height="5" fill="#6aee6a" />
<rect x="173.5" y="137.5" width="3" height="4" fill="none" stroke="#6aee6a" stroke-width="1"/>
<rect x="178" y="134" width="1" height="10" fill="#ff0000" />
<rect x="177" y="137" width="4" height="1" fill="#ff0000" />
<rect x="182" y="142" width="1" height="14" fill="#ff0000" />
<rect x="181" y="144" width="4" height="9" fill="#ff0000" />
<rect x="186" y="139" width="1" height="3" fill="#6aee6a" />
<rect x="184.5" y="142.5" width="3" height="13" fill="none" stroke="#6aee6a" stroke-width="1"/>
<rect x="189" y="141" width="1" height="11" fill="#ff0000" />
<rect x="188" y="142" width="4" height="9" fill="#ff0000" />
<rect x="193" y="142" width="1" height="22" fill="#ff0000" />
<rect x="191" y="142" width="4" height="21" fill="#ff0000" />
<rect x="197" y="159" width="1" height="34" fill="#ff0000" />
<rect x="195" y="161" width="4" height="31" fill="#ff0000" />
<rect x="200" y="172" width="1" height="1" fill="#6aee6a" />
<rect x="200" y="194" width="1" height="8" fill="#6aee6a" />
<rect x="199.5" y="173.5" width="3" height="20" fill="none" stroke="#6aee6a" stroke-width="1"/>
<rect x="204" y="157" width="1" height="14" fill="#6aee6a" />
<rect x="202" y="169" width="4" height="1" fill="#6aee6a" />
<rect x="208" y="158" width="1" height="4" fill="#6aee6a" />
<rect x="208" y="176" width="1" height="1" fill="#6aee6a" />
<rect x="206.5" y="162.5" width="3" height="13" fill="none" stroke="#6aee6a" stroke-width="1"/>
<rect x="211" y="163" width="1" height="20" fill="#ff0000" />
<rect x="210" y="163" width="4" height="19" fill="#ff0000" />
<rect x="215" y="171" width="1" height="2" fill="#6aee6a" />
<rect x="215" y="182" width="1" height="3" fill="#6aee6a" />
<rect x="213.5" y="173.5" width="3" height="8" fill="none" stroke="#6aee6a" stroke-width="1"/>
<rect x="219" y="176" width="1" height="12" fill="#ff0000" />
<rect x="217" y="178" width="4" height="3" fill="#ff0000" />
<rect x="222" y="182" width="1" height="14" fill="#ff0000" />
<rect x="221" y="182" width="4" height="13" fill="#ff0000" />
<rect x="226" y="185" width="1" height="10" fill="#6aee6a" />
<rect x="224" y="192" width="4" height="1" fill="#6aee6a" />
<rect x="230" y="192" width="1" height="9" fill="#6aee6a" />
<rect x="228.5" y="187.5" width="3" height="4" fill="none" stroke="#6aee6a" stroke-width="1"/>
<rect x="233" y="178" width="1" height="6" fill="#6aee6a" />
<rect x="233" y="187" width="1" height="1" fill="#6aee6a" />
<rect x="232.5" y="184.5" width="3" height="2" fill="none" stroke="#6aee6a" stroke-width="1"/>
<rect x="237" y="167" width="1" height="2" fill="#6aee6a" />
<rect x="237" y="182" width="1" height="1" fill="#6aee6a" />
<rect x="235.5" y="169.5" width="3" height="12" fill="none" stroke="#6aee6a" stroke-width="1"/>
<rect x="241" y="148" width="1" height="1" fill="#6aee6a" />
<rect x="241" y="161" width="1" height="1" fill="#6aee6a" />
<rect x="239.5" y="149.5" width="3" height="11" fill="none" stroke="#6aee6a" stroke-width="1"/>
<rect x="244" y="146" width="1" height="10" fill="#ff0000" />
<rect x="243" y="148" width="4" height="4" fill="#ff0000" />
<rect x="248" y="150" width="1" height="15" fill="#ff0000" />
<rect x="246" y="150" width="4" height="7" fill="#ff0000" />
<rect x="252" y="147" width="1" height="10" fill="#6aee6a" />
<rect x="250" y="153" width="4" height="3" fill="#6aee6a" />
<rect x="255" y="132" width="1" height="1" fill="#6aee6a" />
<rect x="254.5" y="133.5" width="3" height="8" fill="none" stroke="#6aee6a" stroke-width="1"/>
<rect x="259" y="131" width="1" height="19" fill="#ff0000" />
<rect x="257" y="132" width="4" height="15" fill="#ff0000" />
<rect x="262" y="147" width="1" height="17" fill="#ff0000" />
<rect x="261" y="147" width="4" height="13" fill="#ff0000" />
<rect x="266" y="150" width="1" height="16" fill="#6aee6a" />
<rect x="265" y="156" width="4" height="2" fill="#6aee6a" />
<rect x="270" y="141" width="1" height="7" fill="#6aee6a" />
<rect x="270" y="155" width="1" height="1" fill="#6aee6a" />
<rect x="268.5" y="148.5" width="3" height="6" fill="none" stroke="#6aee6a" stroke-width="1"/>
<rect x="273" y="153" width="1" height="12" fill="#ff0000" />
<rect x="272" y="154" width="4" height="10" fill="#ff0000" />
<rect x="277" y="158" width="1" height="20" fill="#ff0000" />
<rect x="276" y="158" width="4" height="17" fill="#ff0000" />
<rect x="281" y="183" width="1" height="20" fill="#ff0000" />
<rect x="279" y="183" width="4" height="18" fill="#ff0000" />
<rect x="284" y="210" width="1" height="27" fill="#ff0000" />
<rect x="283" y="210" width="4" height="17" fill="#ff0000" />
<rect x="288" y="215" width="1" height="6" fill="#6aee6a" />
<rect x="288" y="225" width="1" height="8" fill="#6aee6a" />
<rect x="287.5" y="221.5" width="3" height="3" fill="none" stroke="#6aee6a" stroke-width="1"/>
<rect x="292" y="197" width="1" height="9" fill="#6aee6a" />
<rect x="292" y="213" width="1" height="1" fill="#6aee6a" />
<rect x="290.5" y="206.5" width="3" height="6" fill="none" stroke="#6aee6a" stroke-width="1"/>
<rect x="295" y="197" width="1" height="6" fill="#6aee6a" />
<rect x="295" y="208" width="1" height="2" fill="#6aee6a" />
<rect x="294.5" y="203.5" width="3" height="4" fill="none" stroke="#6aee6a" stroke-width="1"/>
<rect x="299" y="192" width="1" height="24" fill="#ff0000" />
<rect x="298" y="203" width="4" height="12" fill="#ff0000" />
<rect x="303" y="204" width="1" height="21" fill="#ff0000" />
<rect x="301" y="213" width="4" height="11" fill="#ff0000" />
<rect x="306" y="221" width="1" height="16" fill="#ff0000" />
<rect x="305" y="222" width="4" height="8" fill="#ff0000" />
<rect x="310" y="207" width="1" height="11" fill="#6aee6a" />
<rect x="310" y="226" width="1" height="1" fill="#6aee6a" />
<rect x="309.5" y="218.5" width="3" height="7" fill="none" stroke="#6aee6a" stroke-width="1"/>
<rect x="314" y="202" width="1" height="34" fill="#ff0000" />
<rect x="312" y="213" width="4" height="22" fill="#ff0000" />
<rect x="317" y="233" width="1" height="25" fill="#ff0000" />
<rect x="316" y="235" width="4" height="14" fill="#ff0000" />
<rect x="321" y="239" width="1" height="9" fill="#6aee6a" />
<rect x="320" y="242" width="4" height="2" fill="#6aee6a" />
<rect x="325" y="236" width="1" height="21" fill="#6aee6a" />
<rect x="323" y="236" width="4" height="2" fill="#6aee6a" />
<rect x="328" y="226" width="1" height="16" fill="#ff0000" />
<rect x="327" y="230" width="4" height="11" fill="#ff0000" />
<rect x="332" y="230" width="1" height="16" fill="#ff0000" />
<rect x="330" y="237" width="4" height="6" fill="#ff0000" />
<rect x="336" y="230" width="1" height="6" fill="#6aee6a" />
<rect x="336" y="241" width="1" height="6" fill="#6aee6a" />
<rect x="334.5" y="236.5" width="3" height="4" fill="none" stroke="#6aee6a" stroke-width="1"/>
<rect x="339" y="228" width="1" height="1" fill="#6aee6a" />
<rect x="338.5" y="205.5" width="3" height="22" fill="none" stroke="#6aee6a" stroke-width="1"/>
<rect x="343" y="198" width="1" height="10" fill="#6aee6a" />
<rect x="341" y="199" width="4" height="2" fill="#6aee6a" />
<rect x="347" y="193" width="1" height="14" fill="#ff0000" />
<rect x="345" y="194" width="4" height="12" fill="#ff0000" />
<rect x="350" y="182" width="1" height="2" fill="#6aee6a" />
<rect x="350" y="204" width="1" height="1" fill="#6aee6a" />
<rect x="349.5" y="184.5" width="3" height="19" fill="none" stroke="#6aee6a" stroke-width="1"/>
<rect x="354" y="180" width="1" height="15" fill="#ff0000" />
<rect x="352" y="182" width="4" height="12" fill="#ff0000" />
<rect x="358" y="186" width="1" height="18" fill="#ff0000" />
<rect x="356" y="187" width="4" height="8" fill="#ff0000" />
<rect x="361" y="178" width="1" height="1" fill="#6aee6a" />
<rect x="361" y="187" width="1" height="2" fill="#6aee6a" />
<rect x="360.5" y="179.5" width="3" height="7" fill="none" stroke="#6aee6a" stroke-width="1"/>
<rect x="365" y="181" width="1" height="28" fill="#ff0000" />
<rect x="363" y="181" width="4" height="27" fill="#ff0000" />
<rect x="369" y="206" width="1" height="8" fill="#ff0000" />
<rect x="367" y="208" width="4" height="2" fill="#ff0000" />
<rect x="372" y="214" width="1" height="18" fill="#ff0000" />
<rect x="371" y="214" width="4" height="12" fill="#ff0000" />
<rect x="376" y="220" width="1" height="13" fill="#ff0000" />
<rect x="374" y="221" width="4" height="11" fill="#ff0000" />
<rect x="380" y="209" width="1" height="5" fill="#6aee6a" />
<rect x="380" y="224" width="1" height="1" fill="#6aee6a" />
<rect x="378.5" y="214.5" width="3" height="9" fill="none" stroke="#6aee6a" stroke-width="1"/>
<rect x="383" y="217" width="1" height="15" fill="#ff0000" />
<rect x="382" y="217" width="4" height="4" fill="#ff0000" />
<rect x="387" y="211" width="1" height="5" fill="#6aee6a" />
<rect x="387" y="231" width="1" height="1" fill="#6aee6a" />
<rect x="385.5" y="216.5" width="3" height="14" fill="none" stroke="#6aee6a" stroke-width="1"/>
<rect x="391" y="209" width="1" height="3" fill="#6aee6a" />
<rect x="391" y="216" width="1" height="1" fill="#6aee6a" />
<rect x="389.5" y="212.5" width="3" height="3" fill="none" stroke="#6aee6a" stroke-width="1"/>
<rect x="394" y="199" width="1" height="8" fill="#6aee6a" />
<rect x="393" y="203" width="4" height="2" fill="#6aee6a" />
<rect x="398" y="210" width="1" height="15" fill="#ff0000" />
<rect x="396" y="210" width="4" height="14" fill="#ff0000" />
<rect x="401" y="220" width="1" height="20" fill="#6aee6a" />
<rect x="400" y="225" width="4" height="2" fill="#6aee6a" />
<rect x="405" y="215" width="1" height="1" fill="#6aee6a" />
<rect x="405" y="225" width="1" height="1" fill="#6aee6a" />
<rect x="404.5" y="216.5" width="3" height="8" fill="none" stroke="#6aee6a" stroke-width="1"/>
<rect x="409" y="200" width="1" height="1" fill="#6aee6a" />
<rect x="409" y="208" width="1" height="1" fill="#6aee6a" />
<rect x="407.5" y="201.5" width="3" height="6" fill="none" stroke="#6aee6a" stroke-width="1"/>
<rect x="412" y="196" width="1" height="12" fill="#ff0000" />
<rect x="411" y="202" width="4" height="4" fill="#ff0000" />
<rect x="416" y="204" width="1" height="2" fill="#6aee6a" />
<rect x="416" y="211" width="1" height="1" fill="#6aee6a" />
<rect x="415.5" y="206.5" width="3" height="4" fill="none" stroke="#6aee6a" stroke-width="1"/>
<rect x="420" y="207" width="1" height="18" fill="#ff0000" />
<rect x="418" y="208" width="4" height="16" fill="#ff0000" />
<rect x="423" y="217" width="1" height="2" fill="#6aee6a" />
<rect x="423" y="226" width="1" height="7" fill="#6aee6a" />
<rect x="422.5" y="219.5" width="3" height="6" fill="none" stroke="#6aee6a" stroke-width="1"/>
<rect x="427" y="219" width="1" height="20" fill="#ff0000" />
<rect x="426" y="220" width="4" height="15" fill="#ff0000" />
<rect x="431" y="219" width="1" height="18" fill="#ff0000" />
<rect x="429" y="219" width="4" height="17" fill="#ff0000" />
<rect x="434" y="224" width="1" height="2" fill="#6aee6a" />
<rect x="434" y="229" width="1" height="6" fill="#6aee6a" />
<rect x="433.5" y="226.5" width="3" height="2" fill="none" stroke="#6aee6a" stroke-width="1"/>
<rect x="438" y="216" width="1" height="1" fill="#6aee6a" />
<rect x="438" y="229" width="1" height="8" fill="#6aee6a" />
<rect x="437.5" y="217.5" width="3" height="11" fill="none" stroke="#6aee6a" stroke-width="1"/>
<rect x="442" y="194" width="1" height="11" fill="#6aee6a" />
<rect x="442" y="210" width="1" height="1" fill="#6aee6a" />
<rect x="440.5" y="205.5" width="3" height="4" fill="none" stroke="#6aee6a" stroke-width="1"/>
<rect x="445" y="198" width="1" height="10" fill="#6aee6a" />
<rect x="444" y="200" width="4" height="2" fill="#6aee6a" />
<rect x="449" y="192" width="1" height="18" fill="#ff0000" />
<rect x="448" y="193" width="4" height="14" fill="#ff0000" />
<rect x="453" y="201" width="1" height="1" fill="#6aee6a" />
<rect x="453" y="208" width="1" height="1" fill="#6aee6a" />
<rect x="451.5" y="202.5" width="3" height="5" fill="none" stroke="#6aee6a" stroke-width="1"/>
<rect x="456" y="208" width="1" height="8" fill="#ff0000" />
<rect x="455" y="208" width="4" height="7" fill="#ff0000" />
<rect x="460" y="201" width="1" height="1" fill="#6aee6a" />
<rect x="460" y="216" width="1" height="1" fill="#6aee6a" />
<rect x="459.5" y="202.5" width="3" height="13" fill="none" stroke="#6aee6a" stroke-width="1"/>
<rect x="464" y="189" width="1" height="7" fill="#6aee6a" />
<rect x="462" y="194" width="4" height="1" fill="#6aee6a" />
<rect x="467" y="188" width="1" height="1" fill="#6aee6a" />
<rect x="467" y="192" width="1" height="9" fill="#6aee6a" />
<rect x="466.5" y="189.5" width="3" height="2" fill="none" stroke="#6aee6a" stroke-width="1"/>
<rect x="471" y="176" width="1" height="6" fill="#6aee6a" />
<rect x="471" y="187" width="1" height="2" fill="#6aee6a" />
<rect x="469.5" y="182.5" width="3" height="4" fill="none" stroke="#6aee6a" stroke-width="1"/>
<rect x="475" y="177" width="1" height="7" fill="#6aee6a" />
<rect x="473" y="178" width="4" height="2" fill="#6aee6a" />
<rect x="478" y="171" width="1" height="9" fill="#6aee6a" />
<rect x="477" y="177" width="4" height="1" fill="#6aee6a" />
<rect x="482" y="183" width="1" height="1" fill="#ff0000" />
<rect x="482" y="193" width="1" height="1" fill="#ff0000" />
<rect x="480.5" y="184.5" width="3" height="8" fill="none" stroke="#ff0000" stroke-width="1"/>
<rect x="486" y="189" width="1" height="13" fill="#ff0000" />
<rect x="484" y="189" width="4" height="9" fill="#ff0000" />
<rect x="489" y="192" width="1" height="5" fill="#6aee6a" />
<rect x="488" y="194" width="4" height="2" fill="#6aee6a" />
<rect x="493" y="188" width="1" height="5" fill="#6aee6a" />
<rect x="493" y="196" width="1" height="1" fill="#6aee6a" />
<rect x="491.5" y="193.5" width="3" height="2" fill="none" stroke="#6aee6a" stroke-width="1"/>
<rect x="497" y="199" width="1" height="2" fill="#ff0000" />
<rect x="495" y="199" width="4" height="1" fill="#ff0000" />
<rect x="500" y="196" width="1" height="11" fill="#6aee6a" />
<rect x="499" y="199" width="4" height="1" fill="#6aee6a" />
<rect x="504" y="211" width="1" height="34" fill="#ff0000" />
<rect x="502" y="211" width="4" height="32" fill="#ff0000" />
<rect x="508" y="236" width="1" height="14" fill="#ff0000" />
<rect x="508" y="255" width="1" height="2" fill="#ff0000" />
<rect x="506.5" y="250.5" width="3" height="4" fill="none" stroke="#ff0000" stroke-width="1"/>
<rect x="511" y="240" width="1" height="4" fill="#6aee6a" />
<rect x="511" y="252" width="1" height="1" fill="#6aee6a" />
<rect x="510.5" y="244.5" width="3" height="7" fill="none" stroke="#6aee6a" stroke-width="1"/>
<rect x="515" y="234" width="1" height="9" fill="#6aee6a" />
<rect x="513" y="241" width="4" height="1" fill="#6aee6a" />
<rect x="519" y="238" width="1" height="11" fill="#ff0000" />
<rect x="517" y="239" width="4" height="5" fill="#ff0000" />
<rect x="522" y="252" width="1" height="32" fill="#ff0000" />
<rect x="521" y="252" width="4" height="32" fill="#ff0000" />
<rect x="526" y="285" width="1" height="6" fill="#ff0000" />
<rect x="526" y="298" width="1" height="1" fill="#ff0000" />
<rect x="524.5" y="291.5" width="3" height="6" fill="none" stroke="#ff0000" stroke-width="1"/>
<rect x="530" y="276" width="1" height="5" fill="#6aee6a" />
<rect x="530" y="290" width="1" height="1" fill="#6aee6a" />
<rect x="528.5" y="281.5" width="3" height="8" fill="none" stroke="#6aee6a" stroke-width="1"/>
<rect x="533" y="277" width="1" height="12" fill="#ff0000" />
<rect x="532" y="278" width="4" height="9" fill="#ff0000" />
<rect x="537" y="275" width="1" height="16" fill="#6aee6a" />
<rect x="535" y="287" width="4" height="1" fill="#6aee6a" />
<rect x="540" y="285" width="1" height="14" fill="#ff0000" />
<rect x="539" y="285" width="4" height="13" fill="#ff0000" />
<rect x="544" y="301" width="1" height="43" fill="#ff0000" />
<rect x="543" y="301" width="4" height="42" fill="#ff0000" />
<rect x="548" y="324" width="1" height="18" fill="#6aee6a" />
<rect x="546" y="334" width="4" height="1" fill="#6aee6a" />
<rect x="551" y="327" width="1" height="13" fill="#ff0000" />
<rect x="550" y="329" width="4" height="9" fill="#ff0000" />
<rect x="555" y="329" width="1" height="16" fill="#6aee6a" />
<rect x="554" y="336" width="4" height="1" fill="#6aee6a" />
<rect x="559" y="303" width="1" height="1" fill="#6aee6a" />
<rect x="559" y="323" width="1" height="1" fill="#6aee6a" />
<rect x="557.5" y="304.5" width="3" height="18" fill="none" stroke="#6aee6a" stroke-width="1"/>
<rect x="562" y="303" width="1" height="16" fill="#ff0000" />
<rect x="561" y="303" width="4" height="15" fill="#ff0000" />
<rect x="566" y="320" width="1" height="15" fill="#ff0000" />
<rect x="565" y="321" width="4" height="13" fill="#ff0000" />
<rect x="570" y="337" width="1" height="33" fill="#ff0000" />
<rect x="568" y="337" width="4" height="32" fill="#ff0000" />
<rect x="573" y="352" width="1" height="2" fill="#6aee6a" />
<rect x="573" y="377" width="1" height="2" fill="#6aee6a" />
<rect x="572.5" y="354.5" width="3" height="22" fill="none" stroke="#6aee6a" stroke-width="1"/>
<rect x="577" y="341" width="1" height="1" fill="#6aee6a" />
<rect x="577" y="355" width="1" height="8" fill="#6aee6a" />
<rect x="576.5" y="342.5" width="3" height="12" fill="none" stroke="#6aee6a" stroke-width="1"/>
<rect x="581" y="322" width="1" height="28" fill="#ff0000" />
<rect x="579" y="332" width="4" height="15" fill="#ff0000" />
<rect x="584" y="342" width="1" height="14" fill="#ff0000" />
<rect x="583" y="349" width="4" height="3" fill="#ff0000" />
<rect x="588" y="340" width="1" height="2" fill="#6aee6a" />
<rect x="588" y="349" width="1" height="1" fill="#6aee6a" />
<rect x="587.5" y="342.5" width="3" height="6" fill="none" stroke="#6aee6a" stroke-width="1"/>
<rect x="592" y="326" width="1" height="15" fill="#6aee6a" />
<rect x="590" y="334" width="4" height="6" fill="#6aee6a" />
<rect x="595" y="326" width="1" height="3" fill="#6aee6a" />
<rect x="595" y="341" width="1" height="6" fill="#6aee6a" />
<rect x="594.5" y="329.5" width="3" height="11" fill="none" stroke="#6aee6a" stroke-width="1"/>
<rect x="599" y="308" width="1" height="9" fill="#6aee6a" />
<rect x="598.5" y="317.5" width="3" height="3" fill="none" stroke="#6aee6a" stroke-width="1"/>
<rect x="603" y="316" width="1" height="11" fill="#ff0000" />
<rect x="601" y="318" width="4" height="4" fill="#ff0000" />
<rect x="606" y="304" width="1" height="6" fill="#6aee6a" />
<rect x="605" y="308" width="4" height="2" fill="#6aee6a" />
<rect x="610" y="298" width="1" height="2" fill="#6aee6a" />
<rect x="610" y="312" width="1" height="1" fill="#6aee6a" />
<rect x="608.5" y="300.5" width="3" height="11" fill="none" stroke="#6aee6a" stroke-width="1"/>
<rect x="614" y="287" width="1" height="2" fill="#6aee6a" />
<rect x="614" y="295" width="1" height="1" fill="#6aee6a" />
<rect x="612.5" y="289.5" width="3" height="5" fill="none" stroke="#6aee6a" stroke-width="1"/>
<rect x="617" y="281" width="1" height="9" fill="#6aee6a" />
<rect x="616" y="283" width="4" height="1" fill="#6aee6a" />
<rect x="621" y="268" width="1" height="9" fill="#6aee6a" />
<rect x="619" y="275" width="4" height="1" fill="#6aee6a" />
<rect x="625" y="273" width="1" height="6" fill="#ff0000" />
<rect x="623" y="275" width="4" height="3" fill="#ff0000" />
<rect x="628" y="273" width="1" height="17" fill="#ff0000" />
<rect x="627" y="275" width="4" height="14" fill="#ff0000" />
<rect x="632" y="288" width="1" height="9" fill="#ff0000" />
<rect x="630" y="289" width="4" height="4" fill="#ff0000" />
<rect x="636" y="293" width="1" height="16" fill="#ff0000" />
<rect x="634" y="294" width="4" height="14" fill="#ff0000" />
<rect x="639" y="294" width="1" height="1" fill="#6aee6a" />
<rect x="639" y="310" width="1" height="2" fill="#6aee6a" />
<rect x="638.5" y="295.5" width="3" height="14" fill="none" stroke="#6aee6a" stroke-width="1"/>
<rect x="643" y="284" width="1" height="3" fill="#6aee6a" />
<rect x="643" y="294" width="1" height="1" fill="#6aee6a" />
<rect x="641.5" y="287.5" width="3" height="6" fill="none" stroke="#6aee6a" stroke-width="1"/>
<rect x="647" y="290" width="1" height="11" fill="#ff0000" />
<rect x="645" y="290" width="4" height="6" fill="#ff0000" />
<rect x="650" y="304" width="1" height="26" fill="#ff0000" />
<rect x="649" y="304" width="4" height="25" fill="#ff0000" />
<rect x="654" y="314" width="1" height="13" fill="#6aee6a" />
<rect x="652" y="324" width="4" height="2" fill="#6aee6a" />
<rect x="658" y="329" width="1" height="22" fill="#ff0000" />
<rect x="656" y="329" width="4" height="16" fill="#ff0000" />
<rect x="661" y="328" width="1" height="1" fill="#6aee6a" />
<rect x="661" y="339" width="1" height="1" fill="#6aee6a" />
<rect x="660.5" y="329.5" width="3" height="9" fill="none" stroke="#6aee6a" stroke-width="1"/>
<rect x="665" y="321" width="1" height="1" fill="#6aee6a" />
<rect x="665" y="335" width="1" height="5" fill="#6aee6a" />
<rect x="663.5" y="322.5" width="3" height="12" fill="none" stroke="#6aee6a" stroke-width="1"/>
<rect x="669" y="313" width="1" height="9" fill="#6aee6a" />
<rect x="667" y="319" width="4" height="2" fill="#6aee6a" />
<rect x="672" y="300" width="1" height="7" fill="#6aee6a" />
<rect x="672" y="310" width="1" height="1" fill="#6aee6a" />
<rect x="671.5" y="307.5" width="3" height="2" fill="none" stroke="#6aee6a" stroke-width="1"/>
<rect x="676" y="303" width="1" height="13" fill="#ff0000" />
<rect x="674" y="303" width="4" height="6" fill="#ff0000" />
<rect x="679" y="303" width="1" height="1" fill="#6aee6a" />
<rect x="679" y="309" width="1" height="1" fill="#6aee6a" />
<rect x="678.5" y="304.5" width="3" height="4" fill="none" stroke="#6aee6a" stroke-width="1"/>
<rect x="683" y="301" width="1" height="2" fill="#6aee6a" />
<rect x="683" y="309" width="1" height="3" fill="#6aee6a" />
<rect x="682.5" y="303.5" width="3" height="5" fill="none" stroke="#6aee6a" stroke-width="1"/>
<rect x="687" y="282" width="1" height="8" fill="#6aee6a" />
<rect x="685" y="288" width="4" height="1" fill="#6aee6a" />
<rect x="690" y="284" width="1" height="9" fill="#ff0000" />
<rect x="689" y="290" width="4" height="2" fill="#ff0000" />
<rect x="694" y="283" width="1" height="25" fill="#ff0000" />
<rect x="693" y="284" width="4" height="23" fill="#ff0000" />
<rect x="698" y="300" width="1" height="3" fill="#6aee6a" />
<rect x="698" y="308" width="1" height="1" fill="#6aee6a" />
<rect x="696.5" y="303.5" width="3" height="4" fill="none" stroke="#6aee6a" stroke-width="1"/>
<rect x="701" y="302" width="1" height="2" fill="#6aee6a" />
<rect x="701" y="312" width="1" height="2" fill="#6aee6a" />
<rect x="700.5" y="304.5" width="3" height="7" fill="none" stroke="#6aee6a" stroke-width="1"/>
<rect x="705" y="302" width="1" height="11" fill="#ff0000" />
<rect x="704" y="303" width="4" height="9" fill="#ff0000" />
<rect x="709" y="296" width="1" height="1" fill="#6aee6a" />
<rect x="709" y="304" width="1" height="2" fill="#6aee6a" />
<rect x="707.5" y="297.5" width="3" height="6" fill="none" stroke="#6aee6a" stroke-width="1"/>
<rect x="712" y="293" width="1" height="17" fill="#ff0000" />
<rect x="711" y="294" width="4" height="5" fill="#ff0000" />
<rect x="716" y="275" width="1" height="2" fill="#6aee6a" />
<rect x="716" y="292" width="1" height="1" fill="#6aee6a" />
<rect x="715.5" y="277.5" width="3" height="14" fill="none" stroke="#6aee6a" stroke-width="1"/>
<rect x="720" y="268" width="1" height="1" fill="#6aee6a" />
<rect x="720" y="276" width="1" height="1" fill="#6aee6a" />
<rect x="718.5" y="269.5" width="3" height="6" fill="none" stroke="#6aee6a" stroke-width="1"/>
<rect x="723" y="264" width="1" height="1" fill="#6aee6a" />
<rect x="723" y="278" width="1" height="1" fill="#6aee6a" />
<rect x="722.5" y="265.5" width="3" height="12" fill="none" stroke="#6aee6a" stroke-width="1"/>
<rect x="727" y="264" width="1" height="9" fill="#ff0000" />
<rect x="726" y="265" width="4" height="7" fill="#ff0000" />
<rect x="731" y="279" width="1" height="3" fill="#ff0000" />
<rect x="729" y="280" width="4" height="1" fill="#ff0000" />
<rect x="734" y="269" width="1" height="9" fill="#6aee6a" />
<rect x="733" y="275" width="4" height="3" fill="#6aee6a" />
<rect x="738" y="275" width="1" height="8" fill="#ff0000" />
<rect x="737" y="277" width="4" height="5" fill="#ff0000" />
<rect x="742" y="268" width="1" height="14" fill="#ff0000" />
<rect x="740" y="274" width="4" height="7" fill="#ff0000" />
</g>
<line x1="263" y1="128.5" x2="771" y2="130.5" stroke="#9a10a8" stroke-width="1" stroke-dasharray="6,4"/>
<line x1="774" y1="130.5" x2="777" y2="130.5" stroke="#9a10a8" stroke-width="1" />
<line x1="777" y1="131.5" x2="779" y2="131.5" stroke="#9a10a8" stroke-width="1" />
<line x1="486" y1="171.5" x2="772" y2="171.5" stroke="#9a10a8" stroke-width="1" stroke-dasharray="6,4"/>
<line x1="510" y1="243.5" x2="780" y2="243.5" stroke="#9a10a8" stroke-width="1" stroke-dasharray="6,4"/>
<line x1="174" y1="133.2" x2="509.7" y2="243.3" stroke="#ff0000" stroke-width="1.4" stroke-dasharray="6,4"/>
<line x1="141.8" y1="181.4" x2="509.7" y2="243.3" stroke="#ff0000" stroke-width="1.4" stroke-dasharray="6,4"/>
<line x1="94.6" y1="209.5" x2="509.7" y2="243.3" stroke="#ff0000" stroke-width="1.4" stroke-dasharray="6,4"/>
<line x1="65.3" y1="233.6" x2="509.7" y2="243.3" stroke="#ff0000" stroke-width="3.2" />
<polyline points="257.5,147 257.5,131 509.7,243.3" fill="none" stroke="#ff0000" stroke-width="3.9" stroke-linejoin="miter"/>
<line x1="516" y1="249" x2="743.4" y2="284.6" stroke="#1010ff" stroke-width="1.3" stroke-dasharray="6,4"/>
<line x1="529.6" y1="276.1" x2="743.4" y2="284.6" stroke="#1010ff" stroke-width="1.3" stroke-dasharray="6,4"/>
<line x1="526.6" y1="301.7" x2="743.4" y2="284.6" stroke="#1010ff" stroke-width="1.3" stroke-dasharray="6,4"/>
<line x1="549.8" y1="325.4" x2="743.4" y2="284.6" stroke="#1010ff" stroke-width="1.3" stroke-dasharray="6,4"/>
<line x1="544.7" y1="345.3" x2="743.4" y2="284.6" stroke="#1010ff" stroke-width="1.3" stroke-dasharray="6,4"/>
<line x1="580.6" y1="378.8" x2="756" y2="288.5" stroke="#1010ff" stroke-width="1.3" stroke-dasharray="6,4"/>
<line x1="576.3" y1="369.5" x2="743.4" y2="284.6" stroke="#1010ff" stroke-width="2.4" />
<line x1="624.5" y1="270.1" x2="743.4" y2="284.6" stroke="#1010ff" stroke-width="2.4" />
<line x1="743.4" y1="284.6" x2="753" y2="286.2" stroke="#1010ff" stroke-width="2.4" />
<text x="250.5" y="119.5" fill="#9a9a9a" font-size="15.2" font-weight="normal" text-anchor="start" >1</text>
<text x="356.8" y="157.5" fill="#9a9a9a" font-size="15.2" font-weight="normal" text-anchor="start" >3</text>
<text x="298.5" y="260" fill="#9a9a9a" font-size="15.2" font-weight="normal" text-anchor="start" >2</text>
<text x="400.5" y="262" fill="#9a9a9a" font-size="15.2" font-weight="normal" text-anchor="start" >4</text>
<text x="429.5" y="188.5" fill="#9a9a9a" font-size="15.2" font-weight="normal" text-anchor="start" >5</text>
<text x="620" y="255.5" fill="#9a9a9a" font-size="15.2" font-weight="normal" text-anchor="start" >1</text>
<text x="685.5" y="265" fill="#9a9a9a" font-size="15.2" font-weight="normal" text-anchor="start" >3</text>
<text x="656.5" y="363" fill="#9a9a9a" font-size="15.2" font-weight="normal" text-anchor="start" >2</text>
<text x="696.5" y="336.5" fill="#9a9a9a" font-size="15.2" font-weight="normal" text-anchor="start" >4</text>
<text x="462.5" y="154.5" fill="#9a9a9a" font-size="10.5" font-weight="normal" text-anchor="start" >breakout &amp;</text>
<text x="462.5" y="166.5" fill="#9a9a9a" font-size="10.5" font-weight="normal" text-anchor="start" >pullback</text>
<text x="699.5" y="250.5" fill="#9a9a9a" font-size="10.5" font-weight="normal" text-anchor="start" >breakout &amp;</text>
<text x="699.5" y="262.5" fill="#9a9a9a" font-size="10.5" font-weight="normal" text-anchor="start" >pullback</text>
<text x="487" y="276" fill="#f01010" font-size="12" font-weight="bold" text-anchor="start" >fake?</text>
<text x="506.5" y="325.5" fill="#f01010" font-size="12" font-weight="bold" text-anchor="start" >fake?</text>
<text x="535.5" y="365" fill="#f01010" font-size="12" font-weight="bold" text-anchor="start" >fake?</text>
<text x="740.5" y="118.5" fill="#0a8c0a" font-size="11.3" font-weight="bold" text-anchor="start" >fake!!!!</text>
<text x="740.5" y="164" fill="#0a8c0a" font-size="11.3" font-weight="bold" text-anchor="start" >fake!!!</text>
<text x="747" y="233.8" fill="#0a8c0a" font-size="11.3" font-weight="bold" text-anchor="start" >fake!!</text>
<text x="749" y="269.8" fill="#0a8c0a" font-size="11.3" font-weight="bold" text-anchor="start" >fake!</text>
<g shape-rendering="crispEdges">
<rect x="16" y="435" width="4" height="8" fill="#3e403e" />
<rect x="17" y="435" width="2" height="7" fill="#a8a8f0" />
<rect x="20" y="435" width="4" height="8" fill="#3e403e" />
<rect x="21" y="435" width="2" height="7" fill="#a8a8f0" />
<rect x="23" y="435" width="4" height="8" fill="#3e403e" />
<rect x="24" y="435" width="2" height="7" fill="#a8a8f0" />
<rect x="27" y="435" width="4" height="8" fill="#3e403e" />
<rect x="28" y="435" width="2" height="7" fill="#a8a8f0" />
<rect x="31" y="435" width="4" height="7" fill="#3e403e" />
<rect x="32" y="435" width="2" height="6" fill="#a8a8f0" />
<rect x="34" y="435" width="4" height="6" fill="#3e403e" />
<rect x="35" y="435" width="2" height="5" fill="#a8a8f0" />
<rect x="38" y="435" width="4" height="5" fill="#3e403e" />
<rect x="39" y="435" width="2" height="4" fill="#a8a8f0" />
<rect x="42" y="435" width="4" height="4" fill="#3e403e" />
<rect x="43" y="435" width="2" height="3" fill="#a8a8f0" />
<rect x="45" y="435" width="4" height="2" fill="#3e403e" />
<rect x="46" y="435" width="2" height="1" fill="#a8a8f0" />
<rect x="67" y="432" width="4" height="4" fill="#3e403e" />
<rect x="68" y="433" width="2" height="3" fill="#a870b0" />
<rect x="71" y="431" width="4" height="5" fill="#3e403e" />
<rect x="72" y="432" width="2" height="4" fill="#a870b0" />
<rect x="74" y="430" width="4" height="6" fill="#3e403e" />
<rect x="75" y="431" width="2" height="5" fill="#a870b0" />
<rect x="78" y="429" width="4" height="7" fill="#3e403e" />
<rect x="79" y="430" width="2" height="6" fill="#a870b0" />
<rect x="82" y="429" width="4" height="7" fill="#3e403e" />
<rect x="83" y="430" width="2" height="6" fill="#a870b0" />
<rect x="85" y="429" width="4" height="7" fill="#3e403e" />
<rect x="86" y="430" width="2" height="6" fill="#a870b0" />
<rect x="89" y="430" width="4" height="6" fill="#3e403e" />
<rect x="90" y="431" width="2" height="5" fill="#a870b0" />
<rect x="93" y="430" width="4" height="6" fill="#3e403e" />
<rect x="94" y="431" width="2" height="5" fill="#a870b0" />
<rect x="96" y="432" width="4" height="4" fill="#3e403e" />
<rect x="97" y="433" width="2" height="3" fill="#a870b0" />
<rect x="100" y="433" width="4" height="3" fill="#3e403e" />
<rect x="101" y="434" width="2" height="2" fill="#a870b0" />
<rect x="126" y="434" width="4" height="2" fill="#3e403e" />
<rect x="127" y="435" width="2" height="1" fill="#a870b0" />
<rect x="129" y="432" width="4" height="4" fill="#3e403e" />
<rect x="130" y="433" width="2" height="3" fill="#a870b0" />
<rect x="133" y="432" width="4" height="4" fill="#3e403e" />
<rect x="134" y="433" width="2" height="3" fill="#a870b0" />
<rect x="137" y="431" width="4" height="5" fill="#3e403e" />
<rect x="138" y="432" width="2" height="4" fill="#a870b0" />
<rect x="140" y="430" width="4" height="6" fill="#3e403e" />
<rect x="141" y="431" width="2" height="5" fill="#a870b0" />
<rect x="144" y="429" width="4" height="7" fill="#3e403e" />
<rect x="145" y="430" width="2" height="6" fill="#a870b0" />
<rect x="148" y="429" width="4" height="7" fill="#3e403e" />
<rect x="149" y="430" width="2" height="6" fill="#a870b0" />
<rect x="151" y="430" width="4" height="6" fill="#3e403e" />
<rect x="152" y="431" width="2" height="5" fill="#a870b0" />
<rect x="155" y="431" width="4" height="5" fill="#3e403e" />
<rect x="156" y="432" width="2" height="4" fill="#a870b0" />
<rect x="159" y="431" width="4" height="5" fill="#3e403e" />
<rect x="160" y="432" width="2" height="4" fill="#a870b0" />
<rect x="162" y="430" width="4" height="6" fill="#3e403e" />
<rect x="163" y="431" width="2" height="5" fill="#a870b0" />
<rect x="166" y="428" width="4" height="8" fill="#3e403e" />
<rect x="167" y="429" width="2" height="7" fill="#a870b0" />
<rect x="170" y="426" width="4" height="10" fill="#3e403e" />
<rect x="171" y="427" width="2" height="9" fill="#a870b0" />
<rect x="173" y="426" width="4" height="10" fill="#3e403e" />
<rect x="174" y="427" width="2" height="9" fill="#a870b0" />
<rect x="177" y="427" width="4" height="9" fill="#3e403e" />
<rect x="178" y="428" width="2" height="8" fill="#a870b0" />
<rect x="181" y="428" width="4" height="8" fill="#3e403e" />
<rect x="182" y="429" width="2" height="7" fill="#a870b0" />
<rect x="184" y="430" width="4" height="6" fill="#3e403e" />
<rect x="185" y="431" width="2" height="5" fill="#a870b0" />
<rect x="188" y="430" width="4" height="6" fill="#3e403e" />
<rect x="189" y="431" width="2" height="5" fill="#a870b0" />
<rect x="191" y="432" width="4" height="4" fill="#3e403e" />
<rect x="192" y="433" width="2" height="3" fill="#a870b0" />
<rect x="195" y="434" width="4" height="2" fill="#3e403e" />
<rect x="196" y="435" width="2" height="1" fill="#a870b0" />
<rect x="199" y="435" width="4" height="7" fill="#3e403e" />
<rect x="200" y="435" width="2" height="6" fill="#a8a8f0" />
<rect x="202" y="435" width="4" height="8" fill="#3e403e" />
<rect x="203" y="435" width="2" height="7" fill="#a8a8f0" />
<rect x="206" y="435" width="4" height="8" fill="#3e403e" />
<rect x="207" y="435" width="2" height="7" fill="#a8a8f0" />
<rect x="210" y="435" width="4" height="9" fill="#3e403e" />
<rect x="211" y="435" width="2" height="8" fill="#a8a8f0" />
<rect x="213" y="435" width="4" height="9" fill="#3e403e" />
<rect x="214" y="435" width="2" height="8" fill="#a8a8f0" />
<rect x="217" y="435" width="4" height="10" fill="#3e403e" />
<rect x="218" y="435" width="2" height="9" fill="#a8a8f0" />
<rect x="221" y="435" width="4" height="10" fill="#3e403e" />
<rect x="222" y="435" width="2" height="9" fill="#a8a8f0" />
<rect x="224" y="435" width="4" height="10" fill="#3e403e" />
<rect x="225" y="435" width="2" height="9" fill="#a8a8f0" />
<rect x="228" y="435" width="4" height="9" fill="#3e403e" />
<rect x="229" y="435" width="2" height="8" fill="#a8a8f0" />
<rect x="232" y="435" width="4" height="8" fill="#3e403e" />
<rect x="233" y="435" width="2" height="7" fill="#a8a8f0" />
<rect x="235" y="435" width="4" height="6" fill="#3e403e" />
<rect x="236" y="435" width="2" height="5" fill="#a8a8f0" />
<rect x="243" y="434" width="4" height="2" fill="#3e403e" />
<rect x="244" y="435" width="2" height="1" fill="#a870b0" />
<rect x="246" y="434" width="4" height="2" fill="#3e403e" />
<rect x="247" y="435" width="2" height="1" fill="#a870b0" />
<rect x="250" y="432" width="4" height="4" fill="#3e403e" />
<rect x="251" y="433" width="2" height="3" fill="#a870b0" />
<rect x="254" y="432" width="4" height="4" fill="#3e403e" />
<rect x="255" y="433" width="2" height="3" fill="#a870b0" />
<rect x="257" y="432" width="4" height="4" fill="#3e403e" />
<rect x="258" y="433" width="2" height="3" fill="#a870b0" />
<rect x="261" y="434" width="4" height="2" fill="#3e403e" />
<rect x="262" y="435" width="2" height="1" fill="#a870b0" />
<rect x="279" y="435" width="4" height="7" fill="#3e403e" />
<rect x="280" y="435" width="2" height="6" fill="#a8a8f0" />
<rect x="283" y="435" width="4" height="10" fill="#3e403e" />
<rect x="284" y="435" width="2" height="9" fill="#a8a8f0" />
<rect x="287" y="435" width="4" height="12" fill="#3e403e" />
<rect x="288" y="435" width="2" height="11" fill="#a8a8f0" />
<rect x="290" y="435" width="4" height="13" fill="#3e403e" />
<rect x="291" y="435" width="2" height="12" fill="#a8a8f0" />
<rect x="294" y="435" width="4" height="12" fill="#3e403e" />
<rect x="295" y="435" width="2" height="11" fill="#a8a8f0" />
<rect x="298" y="435" width="4" height="12" fill="#3e403e" />
<rect x="299" y="435" width="2" height="11" fill="#a8a8f0" />
<rect x="301" y="435" width="4" height="11" fill="#3e403e" />
<rect x="302" y="435" width="2" height="10" fill="#a8a8f0" />
<rect x="305" y="435" width="4" height="11" fill="#3e403e" />
<rect x="306" y="435" width="2" height="10" fill="#a8a8f0" />
<rect x="309" y="435" width="4" height="10" fill="#3e403e" />
<rect x="310" y="435" width="2" height="9" fill="#a8a8f0" />
<rect x="312" y="435" width="4" height="9" fill="#3e403e" />
<rect x="313" y="435" width="2" height="8" fill="#a8a8f0" />
<rect x="316" y="435" width="4" height="9" fill="#3e403e" />
<rect x="317" y="435" width="2" height="8" fill="#a8a8f0" />
<rect x="320" y="435" width="4" height="8" fill="#3e403e" />
<rect x="321" y="435" width="2" height="7" fill="#a8a8f0" />
<rect x="323" y="435" width="4" height="6" fill="#3e403e" />
<rect x="324" y="435" width="2" height="5" fill="#a8a8f0" />
<rect x="327" y="435" width="4" height="5" fill="#3e403e" />
<rect x="328" y="435" width="2" height="4" fill="#a8a8f0" />
<rect x="330" y="435" width="4" height="4" fill="#3e403e" />
<rect x="331" y="435" width="2" height="3" fill="#a8a8f0" />
<rect x="334" y="434" width="4" height="2" fill="#3e403e" />
<rect x="335" y="435" width="2" height="1" fill="#a870b0" />
<rect x="338" y="433" width="4" height="3" fill="#3e403e" />
<rect x="339" y="434" width="2" height="2" fill="#a870b0" />
<rect x="341" y="431" width="4" height="5" fill="#3e403e" />
<rect x="342" y="432" width="2" height="4" fill="#a870b0" />
<rect x="345" y="429" width="4" height="7" fill="#3e403e" />
<rect x="346" y="430" width="2" height="6" fill="#a870b0" />
<rect x="349" y="427" width="4" height="9" fill="#3e403e" />
<rect x="350" y="428" width="2" height="8" fill="#a870b0" />
<rect x="352" y="426" width="4" height="10" fill="#3e403e" />
<rect x="353" y="427" width="2" height="9" fill="#a870b0" />
<rect x="356" y="425" width="4" height="11" fill="#3e403e" />
<rect x="357" y="426" width="2" height="10" fill="#a870b0" />
<rect x="360" y="425" width="4" height="11" fill="#3e403e" />
<rect x="361" y="426" width="2" height="10" fill="#a870b0" />
<rect x="363" y="426" width="4" height="10" fill="#3e403e" />
<rect x="364" y="427" width="2" height="9" fill="#a870b0" />
<rect x="367" y="430" width="4" height="6" fill="#3e403e" />
<rect x="368" y="431" width="2" height="5" fill="#a870b0" />
<rect x="371" y="433" width="4" height="3" fill="#3e403e" />
<rect x="372" y="434" width="2" height="2" fill="#a870b0" />
<rect x="389" y="434" width="4" height="2" fill="#3e403e" />
<rect x="390" y="435" width="2" height="1" fill="#a870b0" />
<rect x="393" y="434" width="4" height="2" fill="#3e403e" />
<rect x="394" y="435" width="2" height="1" fill="#a870b0" />
<rect x="396" y="434" width="4" height="2" fill="#3e403e" />
<rect x="397" y="435" width="2" height="1" fill="#a870b0" />
<rect x="407" y="434" width="4" height="2" fill="#3e403e" />
<rect x="408" y="435" width="2" height="1" fill="#a870b0" />
<rect x="411" y="433" width="4" height="3" fill="#3e403e" />
<rect x="412" y="434" width="2" height="2" fill="#a870b0" />
<rect x="415" y="432" width="4" height="4" fill="#3e403e" />
<rect x="416" y="433" width="2" height="3" fill="#a870b0" />
<rect x="418" y="433" width="4" height="3" fill="#3e403e" />
<rect x="419" y="434" width="2" height="2" fill="#a870b0" />
<rect x="440" y="434" width="4" height="2" fill="#3e403e" />
<rect x="441" y="435" width="2" height="1" fill="#a870b0" />
<rect x="444" y="433" width="4" height="3" fill="#3e403e" />
<rect x="445" y="434" width="2" height="2" fill="#a870b0" />
<rect x="448" y="432" width="4" height="4" fill="#3e403e" />
<rect x="449" y="433" width="2" height="3" fill="#a870b0" />
<rect x="451" y="432" width="4" height="4" fill="#3e403e" />
<rect x="452" y="433" width="2" height="3" fill="#a870b0" />
<rect x="455" y="431" width="4" height="5" fill="#3e403e" />
<rect x="456" y="432" width="2" height="4" fill="#a870b0" />
<rect x="459" y="432" width="4" height="4" fill="#3e403e" />
<rect x="460" y="433" width="2" height="3" fill="#a870b0" />
<rect x="462" y="431" width="4" height="5" fill="#3e403e" />
<rect x="463" y="432" width="2" height="4" fill="#a870b0" />
<rect x="466" y="430" width="4" height="6" fill="#3e403e" />
<rect x="467" y="431" width="2" height="5" fill="#a870b0" />
<rect x="469" y="430" width="4" height="6" fill="#3e403e" />
<rect x="470" y="431" width="2" height="5" fill="#a870b0" />
<rect x="473" y="429" width="4" height="7" fill="#3e403e" />
<rect x="474" y="430" width="2" height="6" fill="#a870b0" />
<rect x="477" y="429" width="4" height="7" fill="#3e403e" />
<rect x="478" y="430" width="2" height="6" fill="#a870b0" />
<rect x="480" y="429" width="4" height="7" fill="#3e403e" />
<rect x="481" y="430" width="2" height="6" fill="#a870b0" />
<rect x="484" y="430" width="4" height="6" fill="#3e403e" />
<rect x="485" y="431" width="2" height="5" fill="#a870b0" />
<rect x="488" y="433" width="4" height="3" fill="#3e403e" />
<rect x="489" y="434" width="2" height="2" fill="#a870b0" />
<rect x="491" y="434" width="4" height="2" fill="#3e403e" />
<rect x="492" y="435" width="2" height="1" fill="#a870b0" />
<rect x="499" y="435" width="4" height="2" fill="#3e403e" />
<rect x="500" y="435" width="2" height="1" fill="#a8a8f0" />
<rect x="502" y="435" width="4" height="5" fill="#3e403e" />
<rect x="503" y="435" width="2" height="4" fill="#a8a8f0" />
<rect x="506" y="435" width="4" height="7" fill="#3e403e" />
<rect x="507" y="435" width="2" height="6" fill="#a8a8f0" />
<rect x="510" y="435" width="4" height="8" fill="#3e403e" />
<rect x="511" y="435" width="2" height="7" fill="#a8a8f0" />
<rect x="513" y="435" width="4" height="9" fill="#3e403e" />
<rect x="514" y="435" width="2" height="8" fill="#a8a8f0" />
<rect x="517" y="435" width="4" height="10" fill="#3e403e" />
<rect x="518" y="435" width="2" height="9" fill="#a8a8f0" />
<rect x="521" y="435" width="4" height="10" fill="#3e403e" />
<rect x="522" y="435" width="2" height="9" fill="#a8a8f0" />
<rect x="524" y="435" width="4" height="11" fill="#3e403e" />
<rect x="525" y="435" width="2" height="10" fill="#a8a8f0" />
<rect x="528" y="435" width="4" height="11" fill="#3e403e" />
<rect x="529" y="435" width="2" height="10" fill="#a8a8f0" />
<rect x="532" y="435" width="4" height="11" fill="#3e403e" />
<rect x="533" y="435" width="2" height="10" fill="#a8a8f0" />
<rect x="535" y="435" width="4" height="12" fill="#3e403e" />
<rect x="536" y="435" width="2" height="11" fill="#a8a8f0" />
<rect x="539" y="435" width="4" height="12" fill="#3e403e" />
<rect x="540" y="435" width="2" height="11" fill="#a8a8f0" />
<rect x="543" y="435" width="4" height="13" fill="#3e403e" />
<rect x="544" y="435" width="2" height="12" fill="#a8a8f0" />
<rect x="546" y="435" width="4" height="13" fill="#3e403e" />
<rect x="547" y="435" width="2" height="12" fill="#a8a8f0" />
<rect x="550" y="435" width="4" height="13" fill="#3e403e" />
<rect x="551" y="435" width="2" height="12" fill="#a8a8f0" />
<rect x="554" y="435" width="4" height="11" fill="#3e403e" />
<rect x="555" y="435" width="2" height="10" fill="#a8a8f0" />
<rect x="557" y="435" width="4" height="7" fill="#3e403e" />
<rect x="558" y="435" width="2" height="6" fill="#a8a8f0" />
<rect x="561" y="435" width="4" height="5" fill="#3e403e" />
<rect x="562" y="435" width="2" height="4" fill="#a8a8f0" />
<rect x="565" y="435" width="4" height="5" fill="#3e403e" />
<rect x="566" y="435" width="2" height="4" fill="#a8a8f0" />
<rect x="568" y="435" width="4" height="5" fill="#3e403e" />
<rect x="569" y="435" width="2" height="4" fill="#a8a8f0" />
<rect x="572" y="435" width="4" height="4" fill="#3e403e" />
<rect x="573" y="435" width="2" height="3" fill="#a8a8f0" />
<rect x="576" y="435" width="4" height="3" fill="#3e403e" />
<rect x="577" y="435" width="2" height="2" fill="#a8a8f0" />
<rect x="583" y="434" width="4" height="2" fill="#3e403e" />
<rect x="584" y="435" width="2" height="1" fill="#a870b0" />
<rect x="587" y="433" width="4" height="3" fill="#3e403e" />
<rect x="588" y="434" width="2" height="2" fill="#a870b0" />
<rect x="590" y="432" width="4" height="4" fill="#3e403e" />
<rect x="591" y="433" width="2" height="3" fill="#a870b0" />
<rect x="594" y="430" width="4" height="6" fill="#3e403e" />
<rect x="595" y="431" width="2" height="5" fill="#a870b0" />
<rect x="598" y="428" width="4" height="8" fill="#3e403e" />
<rect x="599" y="429" width="2" height="7" fill="#a870b0" />
<rect x="601" y="426" width="4" height="10" fill="#3e403e" />
<rect x="602" y="427" width="2" height="9" fill="#a870b0" />
<rect x="605" y="425" width="4" height="11" fill="#3e403e" />
<rect x="606" y="426" width="2" height="10" fill="#a870b0" />
<rect x="608" y="424" width="4" height="12" fill="#3e403e" />
<rect x="609" y="425" width="2" height="11" fill="#a870b0" />
<rect x="612" y="422" width="4" height="14" fill="#3e403e" />
<rect x="613" y="423" width="2" height="13" fill="#a870b0" />
<rect x="616" y="420" width="4" height="16" fill="#3e403e" />
<rect x="617" y="421" width="2" height="15" fill="#a870b0" />
<rect x="619" y="419" width="4" height="17" fill="#3e403e" />
<rect x="620" y="420" width="2" height="16" fill="#a870b0" />
<rect x="623" y="420" width="4" height="16" fill="#3e403e" />
<rect x="624" y="421" width="2" height="15" fill="#a870b0" />
<rect x="627" y="423" width="4" height="13" fill="#3e403e" />
<rect x="628" y="424" width="2" height="12" fill="#a870b0" />
<rect x="630" y="426" width="4" height="10" fill="#3e403e" />
<rect x="631" y="427" width="2" height="9" fill="#a870b0" />
<rect x="634" y="428" width="4" height="8" fill="#3e403e" />
<rect x="635" y="429" width="2" height="7" fill="#a870b0" />
<rect x="638" y="430" width="4" height="6" fill="#3e403e" />
<rect x="639" y="431" width="2" height="5" fill="#a870b0" />
<rect x="641" y="432" width="4" height="4" fill="#3e403e" />
<rect x="642" y="433" width="2" height="3" fill="#a870b0" />
<rect x="645" y="433" width="4" height="3" fill="#3e403e" />
<rect x="646" y="434" width="2" height="2" fill="#a870b0" />
<rect x="649" y="434" width="4" height="2" fill="#3e403e" />
<rect x="650" y="435" width="2" height="1" fill="#a870b0" />
<rect x="674" y="434" width="4" height="2" fill="#3e403e" />
<rect x="675" y="435" width="2" height="1" fill="#a870b0" />
<rect x="678" y="433" width="4" height="3" fill="#3e403e" />
<rect x="679" y="434" width="2" height="2" fill="#a870b0" />
<rect x="682" y="432" width="4" height="4" fill="#3e403e" />
<rect x="683" y="433" width="2" height="3" fill="#a870b0" />
<rect x="685" y="432" width="4" height="4" fill="#3e403e" />
<rect x="686" y="433" width="2" height="3" fill="#a870b0" />
<rect x="689" y="431" width="4" height="5" fill="#3e403e" />
<rect x="690" y="432" width="2" height="4" fill="#a870b0" />
<rect x="693" y="432" width="4" height="4" fill="#3e403e" />
<rect x="694" y="433" width="2" height="3" fill="#a870b0" />
<rect x="696" y="432" width="4" height="4" fill="#3e403e" />
<rect x="697" y="433" width="2" height="3" fill="#a870b0" />
<rect x="700" y="433" width="4" height="3" fill="#3e403e" />
<rect x="701" y="434" width="2" height="2" fill="#a870b0" />
<rect x="704" y="434" width="4" height="2" fill="#3e403e" />
<rect x="705" y="435" width="2" height="1" fill="#a870b0" />
<rect x="707" y="434" width="4" height="2" fill="#3e403e" />
<rect x="708" y="435" width="2" height="1" fill="#a870b0" />
<rect x="711" y="433" width="4" height="3" fill="#3e403e" />
<rect x="712" y="434" width="2" height="2" fill="#a870b0" />
<rect x="715" y="431" width="4" height="5" fill="#3e403e" />
<rect x="716" y="432" width="2" height="4" fill="#a870b0" />
<rect x="718" y="429" width="4" height="7" fill="#3e403e" />
<rect x="719" y="430" width="2" height="6" fill="#a870b0" />
<rect x="722" y="429" width="4" height="7" fill="#3e403e" />
<rect x="723" y="430" width="2" height="6" fill="#a870b0" />
<rect x="726" y="429" width="4" height="7" fill="#3e403e" />
<rect x="727" y="430" width="2" height="6" fill="#a870b0" />
<rect x="729" y="430" width="4" height="6" fill="#3e403e" />
<rect x="730" y="431" width="2" height="5" fill="#a870b0" />
<rect x="733" y="431" width="4" height="5" fill="#3e403e" />
<rect x="734" y="432" width="2" height="4" fill="#a870b0" />
<rect x="737" y="432" width="4" height="4" fill="#3e403e" />
<rect x="738" y="433" width="2" height="3" fill="#a870b0" />
<rect x="740" y="433" width="4" height="3" fill="#3e403e" />
<rect x="741" y="434" width="2" height="2" fill="#a870b0" />
</g>
<rect x="177" y="396" width="600" height="1.2" fill="#ff0000" />
<rect x="17" y="423" width="380" height="2" fill="#ff0000" />
<rect x="397" y="422" width="380" height="2" fill="#ff0000" />
<line x1="32" y1="435.9" x2="777" y2="437.9" stroke="#0a8a0a" stroke-width="2" />
<line x1="28" y1="432.6" x2="777" y2="487.5" stroke="#0a8a0a" stroke-width="1.2" />
<polyline points="17.2,418.3 25.1,422.2 29.5,425.1 36.7,428.4 45.4,431.3 49,431.6 56.9,431.6 64.2,431.8 67.1,431.3 71.4,430.2 75,429.5 80.06,424.76 87.29,423.07 94.52,421.14 101.75,420.66 108.98,421.63 116.2,422.35 123.43,422.83 130.66,422.35 137.89,419.94 145.12,417.53 152.35,415.12 159.58,412.71 166.81,409.1 174.04,405.48 181.27,402.35 187.29,400.9 190.9,401.39 195.72,403.07 202.95,406.2 210.18,409.1 217.23,412.71 224.46,418.73 231.69,423.07 238.92,425.48 246.14,424.76 253.37,423.07 260.6,422.35 267.83,422.35 275.06,423.07 282.29,426.45 289.52,434.4 296.75,439.22 303.98,444.04 311.2,448.86 318.43,453.67 325.66,456.08 332.89,458.49 340.12,457.29 347.35,453.67 354.58,448.13 361.81,444.04 369.04,441.63 376.27,440.9 383.49,440.9 393.13,440.9 400.36,441.63 405,439.22 414.64,438.49 424.28,438.49 433.92,439.22 443.55,438.49 453.19,436.81 462.83,434.4 472.47,430.3 482.11,427.17 491.75,425.96 501.39,427.17 508.61,430.78 515.84,436.08 523.07,442.83 530.3,450.06 537.53,457.29 544.76,464.52 551.99,470.54 559.22,474.16 566.45,476.08 573.67,477.05 580.9,477.77 588.13,477.05 587.23,475.36 594.46,471.75 601.69,466.93 608.92,459.7 616.14,452.95 623.37,448.13 630.6,445.24 637.83,441.63 645.06,439.22 652.29,438.01 659.52,439.94 666.75,441.63 673.98,441.63 681.2,440.9 688.43,439.22 695.66,436.81 702.89,435.6 710.12,434.4 717.35,431.99 724.58,429.58 731.81,427.89 739.04,426.45 741.45,425.96" fill="none" stroke="#b070c0" stroke-width="1.2" stroke-linejoin="round" />
<polyline points="17.2,426.6 22.2,426.6 28.7,434.2 32.4,434.9 49,434.5 49.7,432.7 56.9,432.4 62.7,432 64.9,433.1 67.1,430.5 70,428 75,425.1 77.65,424.04 82.47,421.14 87.29,419.22 92.11,417.77 96.93,417.53 100.54,418.73 104.16,420.66 108.98,421.63 113.8,422.35 118.61,424.04 122.23,425.48 125.84,424.04 130.66,421.63 135.48,418.73 140.3,416.33 145.12,413.43 149.94,411.02 153.55,409.82 159.58,410.06 164.4,406.69 169.22,401.87 172.83,398.25 176.45,396.57 181.27,397.05 186.08,397.53 190.9,398.25 194.52,401.87 198.13,407.89 201.75,412.71 205.36,415.12 210.18,417.53 214.82,420.66 219.64,423.55 224.46,427.89 229.28,431.27 234.1,432.71 237.71,430.78 241.33,427.89 246.14,425.48 250.96,423.07 254.58,421.14 258.19,419.94 261.81,421.14 266.63,421.63 271.45,421.87 276.27,423.07 279.88,427.17 282.29,433.19 284.7,439.22 288.31,445.24 291.93,448.13 296.75,450.54 301.57,453.67 306.39,456.81 311.2,459.22 316.02,462.11 320.84,464.04 325.66,463.55 330.48,464.04 335.3,462.11 338.92,458.49 342.53,453.67 346.14,448.86 349.76,444.76 354.58,440.9 359.4,438.49 364.22,436.81 369.04,437.53 373.86,440.42 378.67,441.63 383.49,442.35 388.31,441.63 393.13,440.42 397.95,441.63 402.77,441.63 409.82,439.22 414.64,438.49 419.46,438.49 424.28,439.22 429.1,440.9 433.92,442.35 438.73,441.63 443.55,439.22 448.37,436.81 453.19,435.6 458.01,435.12 462.83,433.19 467.65,429.58 472.47,427.17 477.29,424.76 482.11,424.04 486.93,425.48 491.75,426.45 496.57,427.17 500.18,428.37 502.59,431.99 505,436.81 507.41,440.9 511.02,444.04 515.84,447.65 520.66,452.47 525.48,458.49 530.3,463.31 535.12,466.93 539.94,469.34 543.55,472.95 547.17,477.77 550.78,480.18 554.4,482.59 558.01,480.18 561.63,477.77 566.45,480.18 571.27,481.39 576.08,480.18 580.9,477.77 584.82,476.08 589.64,473.67 594.46,470.54 599.28,464.52 604.1,459.7 608.92,454.88 613.73,448.13 618.55,442.35 622.17,439.22 625.78,436.81 630.6,435.12 635.42,435.6 640.24,434.4 645.06,434.4 649.88,436.81 654.7,440.9 659.52,444.04 664.34,444.76 669.16,444.04 673.98,442.35 678.8,440.9 683.61,439.94 688.43,436.08 692.05,434.4 695.66,435.6 700.48,435.6 705.3,435.6 710.12,435.12 714.94,433.19 719.76,429.58 724.58,425.48 729.4,424.76 734.22,424.76 739.04,424.76 741.45,425.96" fill="none" stroke="#d2d2d2" stroke-width="1.8" stroke-linejoin="round" />
<line x1="36.7" y1="538.5" x2="507.4" y2="552.5" stroke="#f0f000" stroke-width="1.1" />
<line x1="258.2" y1="513.4" x2="507.4" y2="552.5" stroke="#f0f000" stroke-width="1.1" />
<line x1="616.1" y1="555.4" x2="748.7" y2="574.6" stroke="#f0f000" stroke-width="1.1" />
<line x1="547.2" y1="582.6" x2="748.7" y2="573.7" stroke="#f0f000" stroke-width="1.1" />
<polyline points="17.41,541.63 27.05,541.63 39.1,541.63 51.14,539.94 63.19,537.53 75.24,535.6 87.29,533.19 99.34,530.78 111.39,530.78 123.43,530.3 135.48,528.86 147.53,524.76 159.58,521.14 171.63,516.33 183.67,512.71 190.9,511.51 198.13,513.43 207.77,515.12 210,515.12 219.64,517.53 229.28,520.66 238.92,521.14 248.55,519.94 258.19,519.22 267.83,519.94 275.06,522.35 282.29,525.96 291.93,528.86 301.57,531.99 311.2,535.6 320.84,538.49 330.48,540.42 340.12,538.49 349.76,537.53 359.4,537.53 369.04,537.53 378.67,536.81 388.31,535.6 397.95,535.12 405,534.4 414.64,534.4 424.28,535.6 433.92,536.08 443.55,537.53 453.19,538.01 462.83,538.49 472.47,538.49 482.11,538.49 491.75,539.22 501.39,540.42 511.02,541.63 518.25,542.83 525.48,546.45 535.12,550.06 544.76,556.08 554.4,561.63 564.04,564.04 573.67,567.41 583.31,568.86 589.64,568.86 599.28,568.13 608.92,566.93 618.55,565 628.19,564.04 637.83,564.04 647.47,565.72 657.11,568.13 666.75,569.82 676.39,570.54 686.02,569.82 695.66,569.34 705.3,568.86 714.94,568.13 724.58,567.41 734.22,566.93 741.93,567.41" fill="none" stroke="#189a68" stroke-width="1.1" stroke-linejoin="round" />
<polyline points="17.41,545.24 21.02,542.83 24.64,545.24 29.46,546.45 34.28,542.83 37.89,539.22 41.51,540.42 45.12,538.49 48.73,535.6 53.55,536.81 58.37,530.3 61.99,536.81 65.6,535.6 69.22,528.86 72.83,531.99 77.65,531.99 82.47,529.58 87.29,527.17 90.9,524.04 94.52,528.37 99.34,527.17 104.16,526.45 107.77,527.89 111.39,531.99 115,529.58 117.41,528.37 121.02,533.19 124.64,534.4 128.25,523.07 131.87,525.48 135.48,524.76 139.1,525.96 142.71,517.53 146.33,513.43 149.94,515.12 153.55,516.81 157.17,517.53 161.99,511.51 166.81,503.07 171.63,499.94 176.45,499.94 180.06,500.66 183.67,506.69 187.29,504.28 190.9,506.2 194.52,512.71 196.93,528.37 200.54,518.73 204.16,519.94 207.77,516.33 211.39,523.55 216.02,523.07 219.64,524.76 223.25,533.19 228.07,530.78 234.1,529.58 237.71,523.55 240.84,513.92 244.94,517.53 248.55,516.33 252.17,515.12 255.78,513.43 259.4,518.73 263.01,524.76 266.63,524.76 270.24,521.14 272.65,520.66 276.27,525.96 278.67,531.99 281.08,541.63 283.49,546.45 287.11,544.04 290.72,540.42 295.54,536.81 299.16,539.22 301.57,544.04 305.18,545.24 307.59,544.04 311.2,542.83 314.1,552.95 317.23,551.27 320.84,548.13 324.46,544.04 328.07,545.24 331.69,544.04 334.1,548.13 337.71,539.22 341.33,533.19 344.94,533.67 348.55,533.19 350.96,528.37 354.58,536.08 358.19,532.71 361.81,530.3 364.22,540.42 369.04,539.94 373.86,539.22 376.27,540.9 379.88,538.01 383.49,534.4 387.11,531.99 390.72,530.78 393.13,531.27 395.54,529.58 399.16,534.4 402.77,533.19 408.61,527.89 412.23,530.78 415.84,531.99 419.46,539.22 423.07,535.6 426.69,533.67 430.3,542.35 433.92,541.63 438.73,540.42 443.55,536.81 447.17,538.01 450.78,541.63 454.4,545.24 456.81,547.17 460.42,541.63 464.04,539.22 468.13,535.12 472.47,538.01 476.08,539.22 480.9,536.81 484.52,538.49 488.13,540.42 491.75,542.35 496.57,542.83 500.18,543.31 503.8,550.06 506.2,551.99 511.02,546.45 514.64,548.13 518.25,550.06 520.66,557.29 523.07,563.31 526.69,562.11 530.3,559.7 533.92,564.52 537.53,565 541.14,570.54 543.55,578.98 547.17,577.05 551.99,578.49 555.6,575.36 559.22,568.13 562.83,571.75 566.45,578.98 570.06,584.28 573.67,578.98 577.29,572.95 580.9,575.36 584.52,576.08 588.13,572.95 592.95,572.23 593.25,574.16 595.66,568.13 599.28,566.93 604.1,566.45 608.92,563.31 612.53,559.7 616.14,556.08 619.76,557.29 623.37,559.22 626.99,562.59 630.6,563.31 634.22,564.52 636.63,567.41 640.24,563.31 643.86,561.63 647.47,563.31 649.88,571.75 652.29,573.67 655.9,573.67 658.31,578.49 661.93,574.64 665.54,572.23 669.16,572.23 672.77,570.54 676.39,571.27 681.2,569.82 686.02,569.34 690.84,569.34 693.25,573.67 695.66,574.64 698.07,572.23 701.69,569.82 705.3,572.23 710.12,568.86 714.94,564.04 718.55,562.59 722.17,562.11 725.78,565.72 729.4,564.52 733.01,564.52 736.63,565.72 740.24,566.93 741.93,568.13" fill="none" stroke="#147a3e" stroke-width="2" stroke-linejoin="round" />
<g font-family="Liberation Sans, sans-serif">
<text x="17" y="14" fill="#e6e4a8" font-size="13.35" font-weight="bold" text-anchor="start" >Gold &amp; Silver Index - Philadelphia ($XAU)</text>
<text x="747.3" y="13.5" fill="#8c8c8c" font-size="12.2" font-weight="normal" text-anchor="end" >&#169; StockCharts.com</text>
<rect x="17" y="17" width="65" height="10" fill="#000"/>
<text x="18.5" y="25" fill="#e6e4a8" font-size="10.3" font-weight="normal" text-anchor="start" xml:space="preserve">RSI(14)  55.4</text>
<text x="15.9" y="116" fill="#ff6a00" font-size="9" font-weight="normal" text-anchor="start" stroke="#ff6a00" stroke-width="0.35">STEPHAN BOGNER</text>
<rect x="17" y="120" width="57" height="10" fill="#000"/>
<text x="17.6" y="128.3" fill="#e6e4a8" font-size="10.5" font-weight="normal" text-anchor="start" >$XAU Daily</text>
<text x="17.6" y="139.6" fill="#ff6c14" font-size="9.8" font-weight="normal" text-anchor="start" stroke="#ff6c14" stroke-width="0.2">EbaInvest.com</text>
<rect x="462" y="120" width="286" height="10" fill="#000"/>
<text x="746.5" y="129" fill="#e6e4a8" font-size="11" text-anchor="end" xml:space="preserve">16-Jul-2004 <tspan font-weight="bold">O:</tspan>90.54 <tspan font-weight="bold">H:</tspan>91.34 <tspan font-weight="bold">L:</tspan>89.62 <tspan font-weight="bold">C:</tspan>89.66 <tspan font-weight="bold">Chg:</tspan>-0.34</text>
<rect x="17" y="385" width="102" height="10" fill="#000"/>
<text x="18.8" y="393" fill="#e6e4a8" font-size="10.35" font-weight="normal" text-anchor="start" xml:space="preserve">MACD(12,26,9)  1.12</text>
<rect x="17" y="488" width="159" height="9" fill="#000"/>
<rect x="17" y="497" width="79" height="10" fill="#000"/>
<text x="18.6" y="495.6" fill="#e6e4a8" font-size="10.6" font-weight="normal" text-anchor="start" xml:space="preserve">Price Relative to $GOLD  0.2209</text>
<text x="18.6" y="505.5" fill="#18a068" font-size="10.4" font-weight="normal" text-anchor="start" >EMA(20) 0.2208</text>
<text x="484.5" y="102.5" fill="#f01010" font-size="11.5" font-weight="bold" text-anchor="start" >fake</text>
<text x="491" y="117.5" fill="#f01010" font-size="11.5" font-weight="bold" text-anchor="start" >breakout</text>
<text x="749.8" y="52.5" fill="#e6e4a8" font-size="9.9" font-weight="normal" text-anchor="start" >70</text>
<text x="749.8" y="74.7" fill="#e6e4a8" font-size="9.9" font-weight="normal" text-anchor="start" >50</text>
<text x="749.8" y="95.5" fill="#e6e4a8" font-size="9.9" font-weight="normal" text-anchor="start" >30</text>
<text x="749.8" y="153.5" fill="#e6e4a8" font-size="9.9" font-weight="normal" text-anchor="start" >110</text>
<text x="749.8" y="183.5" fill="#e6e4a8" font-size="9.9" font-weight="normal" text-anchor="start" >105</text>
<text x="749.8" y="214.5" fill="#e6e4a8" font-size="9.9" font-weight="normal" text-anchor="start" >100</text>
<text x="749.8" y="246.3" fill="#e6e4a8" font-size="9.9" font-weight="normal" text-anchor="start" >95</text>
<text x="749.8" y="281.8" fill="#e6e4a8" font-size="9.9" font-weight="normal" text-anchor="start" >90</text>
<text x="749.8" y="317.5" fill="#e6e4a8" font-size="9.9" font-weight="normal" text-anchor="start" >85</text>
<text x="749.8" y="355.3" fill="#e6e4a8" font-size="9.9" font-weight="normal" text-anchor="start" >80</text>
<text x="749.8" y="412.7" fill="#e6e4a8" font-size="9.9" font-weight="normal" text-anchor="start" >2.5</text>
<text x="752.5" y="436.8" fill="#e6e4a8" font-size="9.9" font-weight="normal" text-anchor="start" >0</text>
<text x="749.8" y="461.6" fill="#e6e4a8" font-size="9.9" font-weight="normal" text-anchor="start" >-2.5</text>
<text x="749.8" y="523.6" fill="#e6e4a8" font-size="9.9" font-weight="normal" text-anchor="start" >0.26</text>
<text x="749.8" y="547.7" fill="#e6e4a8" font-size="9.9" font-weight="normal" text-anchor="start" >0.24</text>
<text x="749.8" y="571.7" fill="#e6e4a8" font-size="9.9" font-weight="normal" text-anchor="start" >0.22</text>
<text x="17.5" y="599.8" fill="#e6e4a8" font-size="10.5" font-weight="normal" text-anchor="middle" >Oct</text>
<text x="101.5" y="599.8" fill="#e6e4a8" font-size="10.5" font-weight="normal" text-anchor="middle" >Nov</text>
<text x="171.5" y="599.8" fill="#e6e4a8" font-size="10.5" font-weight="normal" text-anchor="middle" >Dec</text>
<text x="251.5" y="599.8" fill="#e6e4a8" font-size="10.5" font-weight="normal" text-anchor="middle" >2004</text>
<text x="324.5" y="599.8" fill="#e6e4a8" font-size="10.5" font-weight="normal" text-anchor="middle" >Feb</text>
<text x="394.5" y="599.8" fill="#e6e4a8" font-size="10.5" font-weight="normal" text-anchor="middle" >Mar</text>
<text x="478.5" y="599.8" fill="#e6e4a8" font-size="10.5" font-weight="normal" text-anchor="middle" >Apr</text>
<text x="554.5" y="599.8" fill="#e6e4a8" font-size="10.5" font-weight="normal" text-anchor="middle" >May</text>
<text x="627.5" y="599.8" fill="#e6e4a8" font-size="10.5" font-weight="normal" text-anchor="middle" >Jun</text>
<text x="704.5" y="599.8" fill="#e6e4a8" font-size="10.5" font-weight="normal" text-anchor="middle" >Jul</text>
</g></svg>
</body></html>
